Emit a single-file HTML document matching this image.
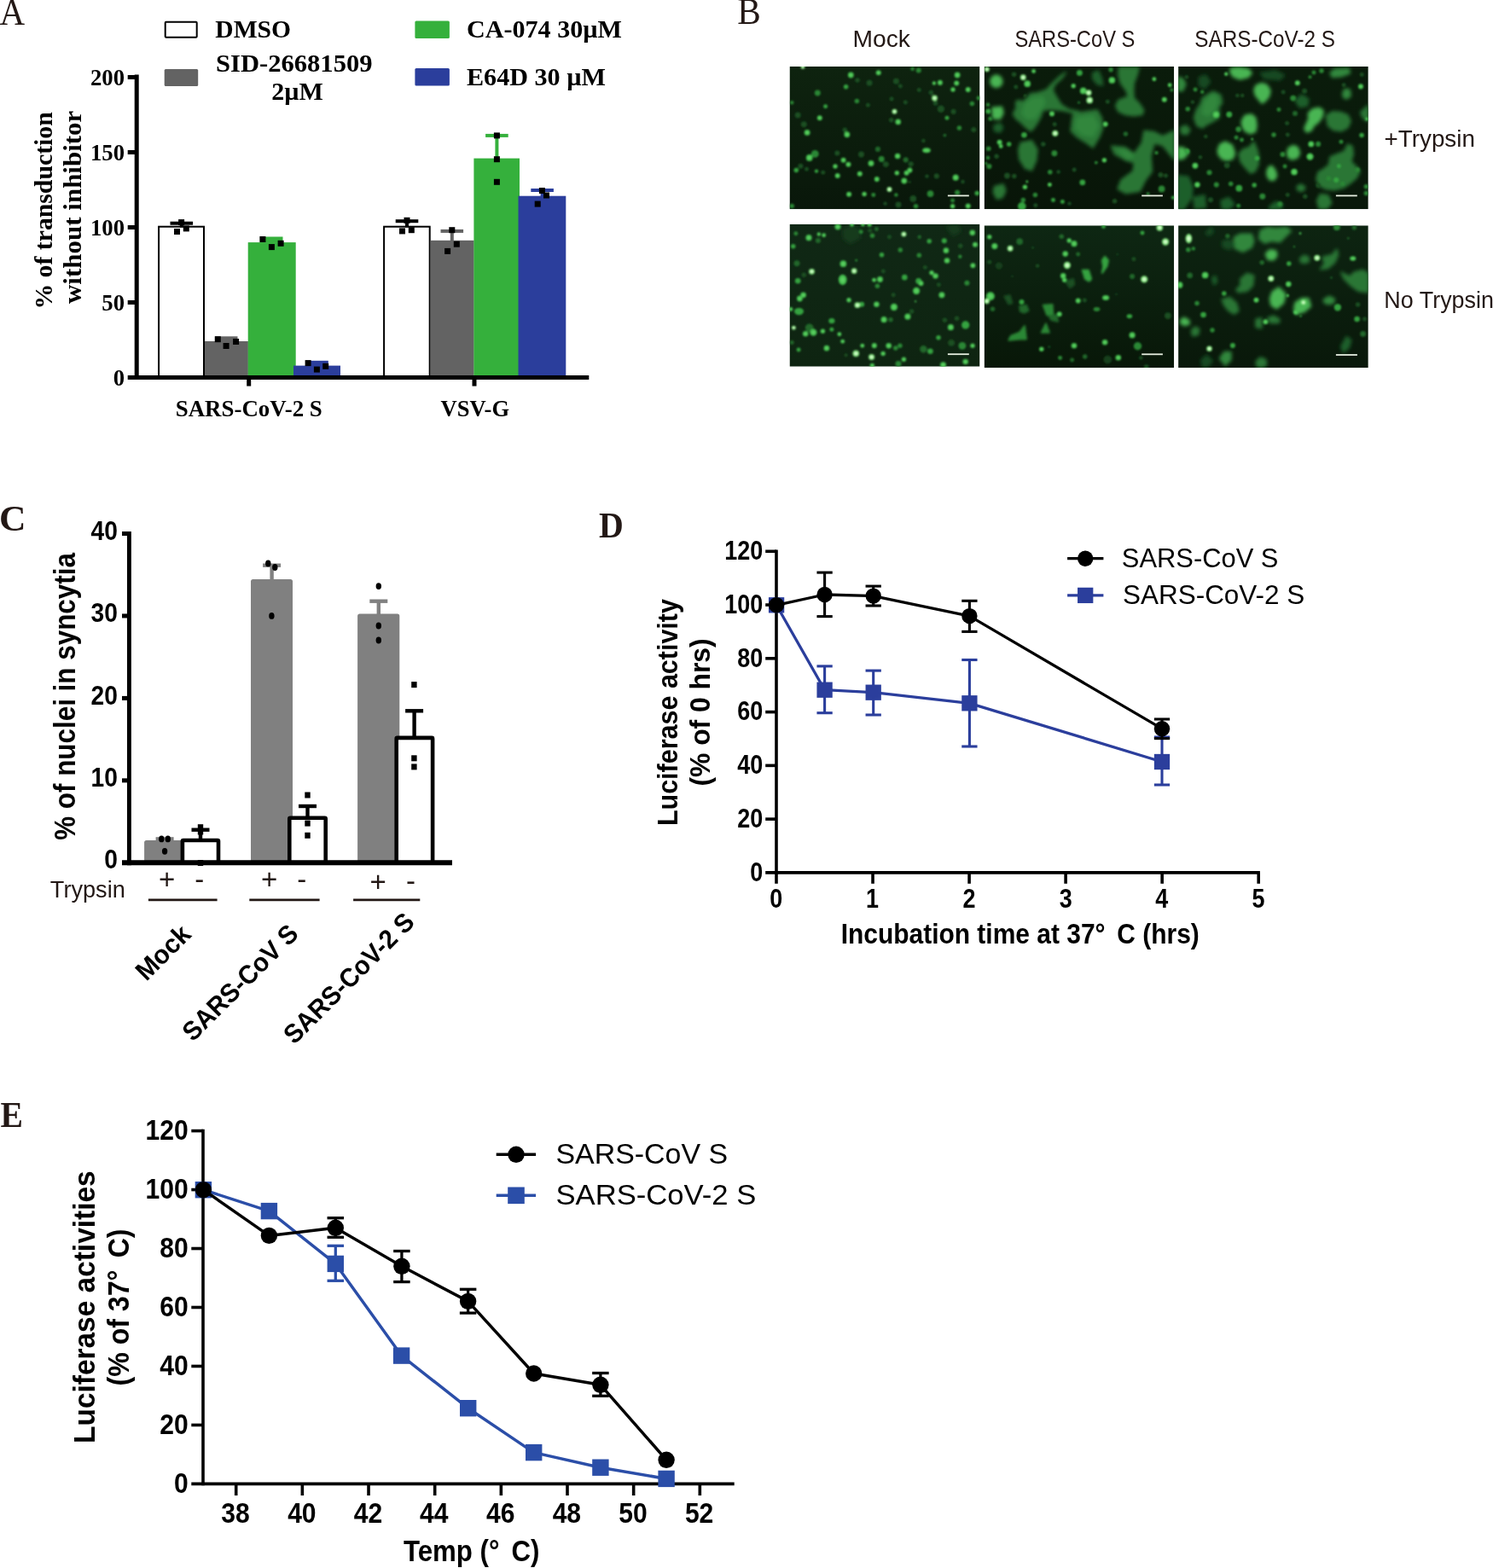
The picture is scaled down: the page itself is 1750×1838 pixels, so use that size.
<!DOCTYPE html>
<html lang="en"><head><meta charset="utf-8"><title>Figure</title>
<style>html,body{margin:0;padding:0;background:#fff}body{width:1750px;height:1838px;overflow:hidden}svg{display:block}text{white-space:pre}</style>
</head><body>
<svg width="1750" height="1838" viewBox="0 0 1750 1838">
<defs><filter id="b1" x="-50%" y="-50%" width="200%" height="200%"><feGaussianBlur stdDeviation="0.9"/></filter><filter id="b15" x="-50%" y="-50%" width="200%" height="200%"><feGaussianBlur stdDeviation="1.4"/></filter><filter id="b2" x="-50%" y="-50%" width="200%" height="200%"><feGaussianBlur stdDeviation="2.2"/></filter><linearGradient id="bgm1" x1="0" y1="0" x2="0" y2="1"><stop offset="0" stop-color="#0e230f"/><stop offset="1" stop-color="#09170a"/></linearGradient><linearGradient id="bgs1" x1="0" y1="0" x2="0" y2="1"><stop offset="0" stop-color="#0a1c0b"/><stop offset="1" stop-color="#081508"/></linearGradient><linearGradient id="bgt1" x1="0" y1="0" x2="0" y2="1"><stop offset="0" stop-color="#0a1c0b"/><stop offset="1" stop-color="#09180a"/></linearGradient><linearGradient id="bgm2" x1="0" y1="0" x2="0" y2="1"><stop offset="0" stop-color="#102815"/><stop offset="1" stop-color="#0e2411"/></linearGradient><linearGradient id="bgs2" x1="0" y1="0" x2="0" y2="1"><stop offset="0" stop-color="#0e2713"/><stop offset="1" stop-color="#081708"/></linearGradient><linearGradient id="bgt2" x1="0" y1="0" x2="0" y2="1"><stop offset="0" stop-color="#0d2411"/><stop offset="1" stop-color="#09180a"/></linearGradient></defs>
<rect width="1750" height="1838" fill="#fff"/>
<g id="panel-labels">
<text x="-0.5" y="28.5" font-family='"Liberation Serif", serif' font-size="43.5" fill="#231815" textLength="29.6" lengthAdjust="spacingAndGlyphs">A</text>
<text x="864.37" y="28.4" font-family='"Liberation Serif", serif' font-size="43.5" fill="#231815" textLength="27.58" lengthAdjust="spacingAndGlyphs">B</text>
<text x="-0.96" y="621.6" font-family='"Liberation Serif", serif' font-size="43" font-weight="bold" fill="#231815" textLength="31.51" lengthAdjust="spacingAndGlyphs">C</text>
<text x="702" y="630" font-family='"Liberation Serif", serif' font-size="43" font-weight="bold" fill="#231815" textLength="28.78" lengthAdjust="spacingAndGlyphs">D</text>
<text x="0.4" y="1321.3" font-family='"Liberation Serif", serif' font-size="43" font-weight="bold" fill="#231815" textLength="26.46" lengthAdjust="spacingAndGlyphs">E</text>
</g>
<g id="panel-a">
<rect x="193.7" y="25.7" width="37" height="18" fill="#fff" stroke="#000" stroke-width="2" rx="1"/>
<rect x="192.7" y="81" width="39.5" height="20" fill="#636363" rx="1.5"/>
<rect x="486.4" y="24.5" width="40.5" height="20.5" fill="#35b03c" rx="1.5"/>
<rect x="486.4" y="80" width="40.5" height="20.5" fill="#2b3e9c" rx="1.5"/>
<text x="252.3" y="44" font-family='"Liberation Serif", serif' font-size="29.6" font-weight="bold">DMSO</text>
<text x="253" y="84.1" font-family='"Liberation Serif", serif' font-size="30" font-weight="bold" textLength="183.5" lengthAdjust="spacingAndGlyphs">SID-26681509</text>
<text x="348.5" y="117.3" font-family='"Liberation Serif", serif' font-size="30" font-weight="bold" text-anchor="middle">2µM</text>
<text x="547" y="44.1" font-family='"Liberation Serif", serif' font-size="30" font-weight="bold" textLength="182" lengthAdjust="spacingAndGlyphs">CA-074 30µM</text>
<text x="547" y="100.1" font-family='"Liberation Serif", serif' font-size="30" font-weight="bold" textLength="163" lengthAdjust="spacingAndGlyphs">E64D 30 µM</text>
<rect x="186.1" y="265.7" width="52.9" height="176.8" fill="#fff" stroke="#000" stroke-width="2"/>
<rect x="240" y="400" width="50.9" height="42.5" fill="#636363"/>
<rect x="290.7" y="284.1" width="56" height="158.4" fill="#35b03c"/>
<rect x="344" y="428.6" width="55" height="13.9" fill="#2b3e9c"/>
<rect x="450.1" y="265.7" width="53.6" height="176.8" fill="#fff" stroke="#000" stroke-width="2"/>
<rect x="504.7" y="281.8" width="50.9" height="160.7" fill="#636363"/>
<rect x="555.4" y="185.6" width="53.6" height="256.9" fill="#35b03c"/>
<rect x="607.5" y="229.7" width="55.8" height="212.8" fill="#2b3e9c"/>
<line x1="212.8" y1="261.7" x2="212.8" y2="266.5" stroke="#000" stroke-width="4"/>
<line x1="199.5" y1="261.7" x2="226.1" y2="261.7" stroke="#000" stroke-width="4"/>
<line x1="265.2" y1="396.3" x2="265.2" y2="401" stroke="#636363" stroke-width="4"/>
<rect x="251.9" y="394.3" width="26.6" height="6.2" fill="#636363"/>
<line x1="318.2" y1="279.5" x2="318.2" y2="285.1" stroke="#35b03c" stroke-width="4"/>
<rect x="304.9" y="277.5" width="26.6" height="7.1" fill="#35b03c"/>
<line x1="371.5" y1="424.8" x2="371.5" y2="429.6" stroke="#2b3e9c" stroke-width="4"/>
<rect x="358.2" y="422.8" width="26.6" height="6.3" fill="#2b3e9c"/>
<line x1="477" y1="259.2" x2="477" y2="266.5" stroke="#000" stroke-width="4"/>
<line x1="463.7" y1="259.2" x2="490.3" y2="259.2" stroke="#000" stroke-width="4"/>
<line x1="529.8" y1="270.9" x2="529.8" y2="284" stroke="#636363" stroke-width="4"/>
<line x1="516.5" y1="270.9" x2="543.1" y2="270.9" stroke="#636363" stroke-width="4"/>
<line x1="582.4" y1="158.9" x2="582.4" y2="188" stroke="#35b03c" stroke-width="4"/>
<line x1="569.1" y1="158.9" x2="595.7" y2="158.9" stroke="#35b03c" stroke-width="4"/>
<line x1="635.6" y1="223" x2="635.6" y2="232" stroke="#2b3e9c" stroke-width="4"/>
<line x1="622.3" y1="223" x2="648.9" y2="223" stroke="#2b3e9c" stroke-width="4"/>
<rect x="209.1" y="257.1" width="7" height="7" fill="#000"/>
<rect x="204" y="268" width="7" height="7" fill="#000"/>
<rect x="214.8" y="264.4" width="7" height="7" fill="#000"/>
<rect x="251.8" y="394.2" width="7" height="7" fill="#000"/>
<rect x="261.6" y="402" width="7" height="7" fill="#000"/>
<rect x="273.1" y="397" width="7" height="7" fill="#000"/>
<rect x="304.4" y="277" width="7" height="7" fill="#000"/>
<rect x="314.9" y="286.1" width="7" height="7" fill="#000"/>
<rect x="325.6" y="281.8" width="7" height="7" fill="#000"/>
<rect x="357.6" y="422.1" width="7" height="7" fill="#000"/>
<rect x="367.9" y="429.6" width="7" height="7" fill="#000"/>
<rect x="378.2" y="425.8" width="7" height="7" fill="#000"/>
<rect x="473.5" y="254.8" width="7" height="7" fill="#000"/>
<rect x="468" y="267.4" width="7" height="7" fill="#000"/>
<rect x="478.8" y="266.2" width="7" height="7" fill="#000"/>
<rect x="526.3" y="266.2" width="7" height="7" fill="#000"/>
<rect x="531.8" y="282.7" width="7" height="7" fill="#000"/>
<rect x="521.1" y="290.9" width="7" height="7" fill="#000"/>
<rect x="578.9" y="155.4" width="7" height="7" fill="#000"/>
<rect x="578.9" y="183.2" width="7" height="7" fill="#000"/>
<rect x="578.9" y="209.8" width="7" height="7" fill="#000"/>
<rect x="631.9" y="220" width="7" height="7" fill="#000"/>
<rect x="637" y="225.5" width="7" height="7" fill="#000"/>
<rect x="626.7" y="235.6" width="7" height="7" fill="#000"/>
<line x1="160.2" y1="87.5" x2="160.2" y2="445" stroke="#000" stroke-width="5"/>
<line x1="149.7" y1="442.5" x2="690.3" y2="442.5" stroke="#000" stroke-width="5"/>
<line x1="149.7" y1="354.5" x2="160.2" y2="354.5" stroke="#000" stroke-width="5"/>
<line x1="149.7" y1="266.5" x2="160.2" y2="266.5" stroke="#000" stroke-width="5"/>
<line x1="149.7" y1="178.5" x2="160.2" y2="178.5" stroke="#000" stroke-width="5"/>
<line x1="149.7" y1="90.5" x2="160.2" y2="90.5" stroke="#000" stroke-width="5"/>
<line x1="291.7" y1="442.5" x2="291.7" y2="452.6" stroke="#000" stroke-width="5"/>
<line x1="556" y1="442.5" x2="556" y2="452.6" stroke="#000" stroke-width="5"/>
<text x="146" y="451.7" font-family='"Liberation Serif", serif' font-size="26.7" font-weight="bold" text-anchor="end">0</text>
<text x="146" y="363.7" font-family='"Liberation Serif", serif' font-size="26.7" font-weight="bold" text-anchor="end">50</text>
<text x="146" y="275.7" font-family='"Liberation Serif", serif' font-size="26.7" font-weight="bold" text-anchor="end">100</text>
<text x="146" y="187.7" font-family='"Liberation Serif", serif' font-size="26.7" font-weight="bold" text-anchor="end">150</text>
<text x="146" y="99.7" font-family='"Liberation Serif", serif' font-size="26.7" font-weight="bold" text-anchor="end">200</text>
<text x="291.8" y="487.6" font-family='"Liberation Serif", serif' font-size="26.9" font-weight="bold" text-anchor="middle">SARS-CoV-2 S</text>
<text x="556.8" y="487.6" font-family='"Liberation Serif", serif' font-size="26.5" font-weight="bold" text-anchor="middle">VSV-G</text>
<text x="61.2" y="362.57" font-family='"Liberation Serif", serif' font-size="28.6" font-weight="bold" textLength="231.31" lengthAdjust="spacingAndGlyphs" transform="rotate(-90 61.2 362.57)">% of transduction</text>
<text x="94.6" y="356" font-family='"Liberation Serif", serif' font-size="28.6" font-weight="bold" textLength="226.38" lengthAdjust="spacingAndGlyphs" transform="rotate(-90 94.6 356)">without inhibitor</text>
</g>
<g id="panel-b">
<text x="999.54" y="54.5" font-family='"Liberation Sans", sans-serif' font-size="27.8" fill="#231815" textLength="67.42" lengthAdjust="spacingAndGlyphs">Mock</text>
<text x="1189.43" y="54.5" font-family='"Liberation Sans", sans-serif' font-size="27.8" fill="#231815" textLength="140.96" lengthAdjust="spacingAndGlyphs">SARS-CoV S</text>
<text x="1400.31" y="54.5" font-family='"Liberation Sans", sans-serif' font-size="27.8" fill="#231815" textLength="164.71" lengthAdjust="spacingAndGlyphs">SARS-CoV-2 S</text>
<text x="1622.55" y="172.2" font-family='"Liberation Sans", sans-serif' font-size="27.8" fill="#231815" textLength="106.35" lengthAdjust="spacingAndGlyphs">+Trypsin</text>
<text x="1622.36" y="360.6" font-family='"Liberation Sans", sans-serif' font-size="27.8" fill="#231815" textLength="128.58" lengthAdjust="spacingAndGlyphs">No Trypsin</text>
<svg x="925.5" y="78" width="223" height="167.2" viewBox="0 0 223 167.2" overflow="hidden">
<rect width="223" height="167.2" fill="url(#bgm1)"/>
<g filter="url(#b1)"><ellipse cx="144.8" cy="154.9" rx="3.87" ry="3.87" fill="#1a4f23"/><ellipse cx="9.7" cy="57.0" rx="3.46" ry="3.46" fill="#1a4f23"/><ellipse cx="124.9" cy="17.3" rx="3.46" ry="3.46" fill="#1a4f23"/><ellipse cx="129.8" cy="23.0" rx="2.49" ry="2.49" fill="#1a4f23"/><ellipse cx="79.5" cy="16.0" rx="2.76" ry="2.76" fill="#1a4f23"/><ellipse cx="93.6" cy="19.2" rx="3.46" ry="3.46" fill="#1a4f23"/><ellipse cx="151.8" cy="27.5" rx="2.49" ry="2.49" fill="#1a4f23"/><ellipse cx="165.9" cy="30.5" rx="2.76" ry="2.76" fill="#1a4f23"/><ellipse cx="119.6" cy="38.0" rx="2.49" ry="2.49" fill="#1a4f23"/><ellipse cx="135.8" cy="41.9" rx="2.49" ry="2.49" fill="#1a4f23"/><ellipse cx="171.0" cy="42.9" rx="2.76" ry="2.76" fill="#1a4f23"/><ellipse cx="177.4" cy="49.7" rx="4.15" ry="4.15" fill="#1a4f23"/><ellipse cx="192.1" cy="52.9" rx="3.04" ry="3.04" fill="#1a4f23"/><ellipse cx="215.8" cy="74.0" rx="3.04" ry="3.04" fill="#1a4f23"/><ellipse cx="16.8" cy="67.8" rx="3.46" ry="3.46" fill="#1a4f23"/><ellipse cx="64.8" cy="74.2" rx="2.76" ry="2.76" fill="#1a4f23"/><ellipse cx="55.8" cy="101.5" rx="3.04" ry="3.04" fill="#1a4f23"/><ellipse cx="84.0" cy="103.0" rx="3.46" ry="3.46" fill="#1a4f23"/><ellipse cx="142.2" cy="114.3" rx="3.04" ry="3.04" fill="#1a4f23"/><ellipse cx="112.8" cy="114.6" rx="3.46" ry="3.46" fill="#1a4f23"/><ellipse cx="12.9" cy="116.7" rx="3.04" ry="3.04" fill="#1a4f23"/><ellipse cx="161.0" cy="128.6" rx="2.21" ry="2.21" fill="#1a4f23"/><ellipse cx="172.3" cy="128.4" rx="3.04" ry="3.04" fill="#1a4f23"/><ellipse cx="203.0" cy="135.0" rx="2.21" ry="2.21" fill="#1a4f23"/><ellipse cx="140.7" cy="135.3" rx="1.38" ry="1.38" fill="#1a4f23"/><ellipse cx="91.9" cy="45.2" rx="2.49" ry="2.49" fill="#1a4f23"/><ellipse cx="119.2" cy="62.7" rx="2.76" ry="2.76" fill="#1a4f23"/><ellipse cx="156.9" cy="87.0" rx="2.21" ry="2.21" fill="#1a4f23"/><ellipse cx="112.1" cy="160.6" rx="2.21" ry="2.21" fill="#1a4f23"/><ellipse cx="127.5" cy="161.9" rx="3.46" ry="3.46" fill="#1a4f23"/><ellipse cx="39.2" cy="124.2" rx="2.49" ry="2.49" fill="#1a4f23"/><ellipse cx="20.0" cy="120.3" rx="2.49" ry="2.49" fill="#1a4f23"/><ellipse cx="136.2" cy="109.4" rx="3.04" ry="3.04" fill="#20672a"/><ellipse cx="181.9" cy="80.6" rx="1.94" ry="1.94" fill="#20672a"/><ellipse cx="103.4" cy="96.9" rx="3.04" ry="3.04" fill="#20672a"/><ellipse cx="32.8" cy="31.0" rx="3.46" ry="3.46" fill="#2a8735"/><ellipse cx="78.9" cy="40.6" rx="2.76" ry="2.76" fill="#2a8735"/><ellipse cx="198.9" cy="72.1" rx="2.76" ry="2.76" fill="#2a8735"/><ellipse cx="29.8" cy="102.4" rx="4.42" ry="4.42" fill="#2a8735"/><ellipse cx="107.7" cy="108.5" rx="3.46" ry="3.46" fill="#2a8735"/><ellipse cx="98.3" cy="150.4" rx="2.49" ry="2.49" fill="#2a8735"/><ellipse cx="124.9" cy="150.4" rx="2.21" ry="2.21" fill="#2a8735"/><ellipse cx="165.0" cy="149.1" rx="3.87" ry="3.87" fill="#2a8735"/><ellipse cx="196.6" cy="147.8" rx="3.04" ry="3.04" fill="#2a8735"/><ellipse cx="191.1" cy="157.1" rx="2.49" ry="2.49" fill="#2a8735"/><ellipse cx="148.0" cy="163.8" rx="2.76" ry="2.76" fill="#2a8735"/><ellipse cx="2.7" cy="163.6" rx="2.76" ry="2.76" fill="#2a8735"/><ellipse cx="144.1" cy="2.8" rx="2.21" ry="2.21" fill="#2a8735"/><ellipse cx="151.2" cy="4.5" rx="3.04" ry="3.04" fill="#2a8735"/><ellipse cx="2.7" cy="42.2" rx="2.21" ry="2.21" fill="#2a8735"/><ellipse cx="213.9" cy="43.5" rx="2.76" ry="2.76" fill="#2a8735"/><ellipse cx="221.6" cy="37.1" rx="2.49" ry="2.49" fill="#2a8735"/><ellipse cx="66.1" cy="23.7" rx="2.76" ry="2.76" fill="#35a340"/><ellipse cx="42.1" cy="46.7" rx="2.49" ry="2.49" fill="#35a340"/><ellipse cx="184.5" cy="60.2" rx="2.49" ry="2.49" fill="#35a340"/><ellipse cx="7.8" cy="121.6" rx="2.76" ry="2.76" fill="#35a340"/><ellipse cx="31.5" cy="122.6" rx="2.21" ry="2.21" fill="#35a340"/><ellipse cx="219.7" cy="148.5" rx="2.76" ry="2.76" fill="#35a340"/><ellipse cx="71.8" cy="10.0" rx="3.46" ry="3.46" fill="#44bd4e"/><ellipse cx="104.2" cy="7.3" rx="3.04" ry="3.04" fill="#44bd4e"/><ellipse cx="196.6" cy="10.0" rx="3.46" ry="3.46" fill="#44bd4e"/><ellipse cx="195.7" cy="19.5" rx="3.04" ry="3.04" fill="#44bd4e"/><ellipse cx="176.4" cy="18.9" rx="3.04" ry="3.04" fill="#44bd4e"/><ellipse cx="169.4" cy="19.5" rx="2.21" ry="2.21" fill="#44bd4e"/><ellipse cx="191.5" cy="27.1" rx="2.76" ry="2.76" fill="#44bd4e"/><ellipse cx="209.2" cy="27.1" rx="3.04" ry="3.04" fill="#44bd4e"/><ellipse cx="35.3" cy="60.2" rx="3.04" ry="3.04" fill="#44bd4e"/><ellipse cx="127.2" cy="64.9" rx="3.32" ry="3.32" fill="#44bd4e"/><ellipse cx="20.6" cy="77.4" rx="3.46" ry="3.46" fill="#44bd4e"/><ellipse cx="67.3" cy="79.7" rx="3.46" ry="3.46" fill="#44bd4e"/><ellipse cx="160.5" cy="98.2" rx="4.84" ry="3.04" fill="#44bd4e"/><ellipse cx="23.2" cy="106.9" rx="3.87" ry="3.87" fill="#44bd4e"/><ellipse cx="63.1" cy="109.7" rx="3.04" ry="3.04" fill="#44bd4e"/><ellipse cx="68.9" cy="114.8" rx="3.04" ry="3.04" fill="#44bd4e"/><ellipse cx="53.5" cy="117.1" rx="2.76" ry="2.76" fill="#44bd4e"/><ellipse cx="95.5" cy="113.5" rx="3.46" ry="3.46" fill="#44bd4e"/><ellipse cx="126.6" cy="105.0" rx="3.32" ry="3.32" fill="#44bd4e"/><ellipse cx="56.2" cy="128.0" rx="3.04" ry="3.04" fill="#44bd4e"/><ellipse cx="82.3" cy="125.7" rx="3.04" ry="3.04" fill="#44bd4e"/><ellipse cx="125.8" cy="124.8" rx="2.76" ry="2.76" fill="#44bd4e"/><ellipse cx="137.1" cy="124.8" rx="3.04" ry="3.04" fill="#44bd4e"/><ellipse cx="140.9" cy="121.6" rx="3.04" ry="3.04" fill="#44bd4e"/><ellipse cx="102.3" cy="132.1" rx="3.04" ry="3.04" fill="#44bd4e"/><ellipse cx="134.3" cy="134.0" rx="3.46" ry="3.46" fill="#44bd4e"/><ellipse cx="194.7" cy="130.2" rx="3.59" ry="3.59" fill="#44bd4e"/><ellipse cx="69.6" cy="149.8" rx="3.04" ry="3.04" fill="#44bd4e"/><ellipse cx="87.6" cy="149.5" rx="2.76" ry="2.76" fill="#44bd4e"/><ellipse cx="191.1" cy="163.8" rx="2.76" ry="2.76" fill="#44bd4e"/><ellipse cx="209.2" cy="163.6" rx="3.04" ry="3.04" fill="#44bd4e"/><ellipse cx="170.0" cy="36.9" rx="3.46" ry="3.46" fill="#7fe07a"/><ellipse cx="123.0" cy="52.7" rx="3.04" ry="3.04" fill="#7fe07a"/><ellipse cx="117.0" cy="144.0" rx="3.04" ry="3.04" fill="#7fe07a"/><ellipse cx="15.5" cy="0.6" rx="2.49" ry="2.49" fill="#7fe07a"/><ellipse cx="71.8" cy="10.0" rx="1.60" ry="1.60" fill="#5fd265"/><ellipse cx="104.2" cy="7.3" rx="1.41" ry="1.41" fill="#5fd265"/><ellipse cx="196.6" cy="10.0" rx="1.60" ry="1.60" fill="#5fd265"/><ellipse cx="195.7" cy="19.5" rx="1.41" ry="1.41" fill="#5fd265"/><ellipse cx="176.4" cy="18.9" rx="1.41" ry="1.41" fill="#5fd265"/><ellipse cx="169.4" cy="19.5" rx="1.02" ry="1.02" fill="#5fd265"/><ellipse cx="191.5" cy="27.1" rx="1.28" ry="1.28" fill="#5fd265"/><ellipse cx="209.2" cy="27.1" rx="1.41" ry="1.41" fill="#5fd265"/><ellipse cx="35.3" cy="60.2" rx="1.41" ry="1.41" fill="#5fd265"/><ellipse cx="127.2" cy="64.9" rx="1.54" ry="1.54" fill="#5fd265"/><ellipse cx="20.6" cy="77.4" rx="1.60" ry="1.60" fill="#5fd265"/><ellipse cx="67.3" cy="79.7" rx="1.60" ry="1.60" fill="#5fd265"/><ellipse cx="160.5" cy="98.2" rx="2.24" ry="1.41" fill="#5fd265"/><ellipse cx="23.2" cy="106.9" rx="1.79" ry="1.79" fill="#5fd265"/><ellipse cx="63.1" cy="109.7" rx="1.41" ry="1.41" fill="#5fd265"/><ellipse cx="68.9" cy="114.8" rx="1.41" ry="1.41" fill="#5fd265"/><ellipse cx="53.5" cy="117.1" rx="1.28" ry="1.28" fill="#5fd265"/><ellipse cx="95.5" cy="113.5" rx="1.60" ry="1.60" fill="#5fd265"/><ellipse cx="126.6" cy="105.0" rx="1.54" ry="1.54" fill="#5fd265"/><ellipse cx="56.2" cy="128.0" rx="1.41" ry="1.41" fill="#5fd265"/><ellipse cx="82.3" cy="125.7" rx="1.41" ry="1.41" fill="#5fd265"/><ellipse cx="125.8" cy="124.8" rx="1.28" ry="1.28" fill="#5fd265"/><ellipse cx="137.1" cy="124.8" rx="1.41" ry="1.41" fill="#5fd265"/><ellipse cx="140.9" cy="121.6" rx="1.41" ry="1.41" fill="#5fd265"/><ellipse cx="102.3" cy="132.1" rx="1.41" ry="1.41" fill="#5fd265"/><ellipse cx="134.3" cy="134.0" rx="1.60" ry="1.60" fill="#5fd265"/><ellipse cx="194.7" cy="130.2" rx="1.66" ry="1.66" fill="#5fd265"/><ellipse cx="69.6" cy="149.8" rx="1.41" ry="1.41" fill="#5fd265"/><ellipse cx="87.6" cy="149.5" rx="1.28" ry="1.28" fill="#5fd265"/><ellipse cx="191.1" cy="163.8" rx="1.28" ry="1.28" fill="#5fd265"/><ellipse cx="209.2" cy="163.6" rx="1.41" ry="1.41" fill="#5fd265"/><ellipse cx="170.0" cy="36.9" rx="1.76" ry="1.76" fill="#d8ffd0"/><ellipse cx="123.0" cy="52.7" rx="1.55" ry="1.55" fill="#d8ffd0"/><ellipse cx="117.0" cy="144.0" rx="1.55" ry="1.55" fill="#d8ffd0"/><ellipse cx="15.5" cy="0.6" rx="1.27" ry="1.27" fill="#d8ffd0"/></g>
<rect x="185.4" y="150.5" width="24.9" height="1.8" fill="#e6eee0"/>
</svg>
<svg x="1153.6" y="78" width="222.6" height="167.2" viewBox="0 0 222.6 167.2" overflow="hidden">
<rect width="222.6" height="167.2" fill="url(#bgs1)"/>
<g filter="url(#b2)"><polygon points="34.0,55.7 37.8,48.6 37.2,41.6 40.4,39.7 45.5,41.6 54.4,32.0 63.4,30.7 73.0,27.5 78.1,21.8 89.0,11.5 95.4,7.0 91.6,12.8 82.6,21.1 80.0,27.5 84.5,35.8 90.3,44.8 99.2,50.6 111.4,53.1 111.4,55.7 92.2,51.2 76.2,49.9 68.5,51.2 66.6,57.6 63.4,64.0 58.3,71.7 54.4,75.5 48.0,70.4 42.9,65.3 37.8,61.4" fill="#297636" stroke="#297636" stroke-width="2" stroke-linejoin="round"/><polygon points="48.0,43.5 57.0,37.1 68.5,35.8 71.1,42.2 66.0,51.2 59.6,60.2 50.6,61.4 44.2,55.0" fill="#30873c" stroke="#30873c" stroke-width="2" stroke-linejoin="round"/><polygon points="104.4,56.3 114.6,53.8 132.5,51.2 137.6,60.2 138.9,71.7 135.1,81.9 127.4,94.7 118.4,88.3 108.2,81.9 101.8,75.5 103.1,64.0" fill="#297636" stroke="#297636" stroke-width="2" stroke-linejoin="round"/><polygon points="109.5,60.2 127.4,57.6 133.8,69.1 127.4,81.9 114.6,79.4 106.9,71.7" fill="#30873c" stroke="#30873c" stroke-width="2" stroke-linejoin="round"/><polygon points="42.9,89.6 55.7,87.0 62.1,97.3 60.8,110.1 55.7,121.6 48.0,119.0 41.6,108.8 40.4,97.3" fill="#297636" stroke="#297636" stroke-width="2" stroke-linejoin="round"/><polygon points="154.3,46.1 157.5,39.7 165.8,36.5 175.4,37.1 181.8,43.5 186.9,51.2 185.0,56.3 175.4,57.6 165.8,56.3 157.5,52.5" fill="#297636" stroke="#297636" stroke-width="2" stroke-linejoin="round"/><polygon points="158.1,1.3 181.2,1.3 179.2,9.6 175.4,19.2 174.8,28.8 175.4,37.1 169.0,37.1 167.1,28.8 160.0,19.2 157.5,9.6" fill="#297636" stroke="#297636" stroke-width="2" stroke-linejoin="round"/><polygon points="149.2,93.4 164.5,94.7 176.0,102.4 185.0,89.6 187.6,75.5 199.1,76.8 209.3,81.9 222.8,75.5 222.8,108.8 209.3,92.2 199.1,89.6 195.2,105.0 196.5,122.9 188.8,133.1 182.4,145.9 165.8,148.5 156.8,143.4 160.7,133.1 174.8,122.9 176.0,112.6 167.1,110.1 153.0,102.4" fill="#297636" stroke="#297636" stroke-width="2" stroke-linejoin="round"/><polygon points="156.8,97.3 168.4,98.6 174.8,105.0 167.1,108.8" fill="#30873c" stroke="#30873c" stroke-width="2" stroke-linejoin="round"/><polygon points="12.2,140.8 22.4,138.2 25.0,145.9 21.2,153.6 14.8,154.9 10.9,147.2" fill="#297636" stroke="#297636" stroke-width="2" stroke-linejoin="round"/><polygon points="7.3,17.3 9.4,12.4 14.1,10.2 18.9,12.2 21.2,17.3 19.2,22.4 14.1,24.3 9.4,22.4" fill="#48b552" stroke="#48b552" stroke-width="2" stroke-linejoin="round"/><polygon points="9.4,48.6 20.5,47.6 22.2,54.4 18.6,61.2 10.3,60.8" fill="#48b552" stroke="#48b552" stroke-width="2" stroke-linejoin="round"/><polygon points="127.4,7.7 133.8,5.1 137.6,14.1 138.9,21.8 132.5,20.5 127.4,14.1" fill="#1f5f2b" stroke="#1f5f2b" stroke-width="2" stroke-linejoin="round"/><polygon points="11.6,69.1 18.6,66.6 21.8,71.7 18.6,76.8 12.2,75.5" fill="#1f5f2b" stroke="#1f5f2b" stroke-width="2" stroke-linejoin="round"/></g>
<g filter="url(#b1)"><ellipse cx="14.5" cy="105.2" rx="2.76" ry="2.76" fill="#1a4f23"/><ellipse cx="69.2" cy="91.1" rx="2.76" ry="2.76" fill="#1a4f23"/><ellipse cx="60.2" cy="162.8" rx="2.49" ry="2.49" fill="#1a4f23"/><ellipse cx="99.9" cy="160.6" rx="2.21" ry="2.21" fill="#1a4f23"/><ellipse cx="206.8" cy="127.0" rx="3.04" ry="3.04" fill="#1a4f23"/><ellipse cx="212.9" cy="128.0" rx="2.49" ry="2.49" fill="#1a4f23"/><ellipse cx="153.0" cy="157.7" rx="2.76" ry="2.76" fill="#1a4f23"/><ellipse cx="35.0" cy="9.2" rx="2.76" ry="2.76" fill="#1a4f23"/><ellipse cx="37.2" cy="24.1" rx="2.49" ry="2.49" fill="#1a4f23"/><ellipse cx="82.6" cy="67.8" rx="2.49" ry="2.49" fill="#1a4f23"/><ellipse cx="105.6" cy="121.0" rx="2.49" ry="2.49" fill="#1a4f23"/><ellipse cx="87.1" cy="123.5" rx="2.21" ry="2.21" fill="#1a4f23"/><ellipse cx="35.2" cy="128.6" rx="2.76" ry="2.76" fill="#1a4f23"/><ellipse cx="26.9" cy="128.0" rx="3.46" ry="3.46" fill="#1a4f23"/><ellipse cx="144.7" cy="41.2" rx="2.49" ry="2.49" fill="#1a4f23"/><ellipse cx="48.0" cy="34.3" rx="1.94" ry="1.94" fill="#1a4f23"/><ellipse cx="165.8" cy="79.0" rx="2.76" ry="2.76" fill="#20672a"/><ellipse cx="111.0" cy="42.2" rx="1.66" ry="1.66" fill="#20672a"/><ellipse cx="148.5" cy="3.8" rx="2.76" ry="2.76" fill="#2a8735"/><ellipse cx="7.1" cy="61.2" rx="2.49" ry="2.49" fill="#2a8735"/><ellipse cx="4.5" cy="44.8" rx="2.21" ry="2.21" fill="#2a8735"/><ellipse cx="5.2" cy="96.3" rx="2.76" ry="2.76" fill="#2a8735"/><ellipse cx="4.5" cy="106.9" rx="2.21" ry="2.21" fill="#2a8735"/><ellipse cx="5.8" cy="117.1" rx="3.04" ry="3.04" fill="#2a8735"/><ellipse cx="2.0" cy="113.3" rx="1.66" ry="1.66" fill="#2a8735"/><ellipse cx="82.3" cy="101.8" rx="3.46" ry="3.46" fill="#2a8735"/><ellipse cx="131.2" cy="112.6" rx="1.94" ry="1.94" fill="#2a8735"/><ellipse cx="201.9" cy="101.1" rx="2.21" ry="2.21" fill="#2a8735"/><ellipse cx="77.2" cy="123.8" rx="2.76" ry="2.76" fill="#2a8735"/><ellipse cx="59.8" cy="150.4" rx="2.76" ry="2.76" fill="#2a8735"/><ellipse cx="45.7" cy="156.4" rx="2.76" ry="2.76" fill="#2a8735"/><ellipse cx="208.0" cy="143.4" rx="3.87" ry="3.87" fill="#2a8735"/><ellipse cx="192.0" cy="149.1" rx="1.94" ry="1.94" fill="#2a8735"/><ellipse cx="219.8" cy="27.5" rx="1.94" ry="1.94" fill="#2a8735"/><ellipse cx="111.8" cy="7.4" rx="3.46" ry="3.46" fill="#35a340"/><ellipse cx="46.8" cy="80.3" rx="3.32" ry="3.32" fill="#35a340"/><ellipse cx="29.1" cy="91.1" rx="2.76" ry="2.76" fill="#35a340"/><ellipse cx="4.8" cy="52.5" rx="3.04" ry="3.04" fill="#35a340"/><ellipse cx="115.2" cy="135.9" rx="3.32" ry="3.32" fill="#35a340"/><ellipse cx="80.9" cy="156.4" rx="2.49" ry="2.49" fill="#35a340"/><ellipse cx="91.8" cy="158.5" rx="2.49" ry="2.49" fill="#35a340"/><ellipse cx="44.2" cy="163.8" rx="4.84" ry="4.84" fill="#35a340"/><ellipse cx="221.5" cy="153.6" rx="2.21" ry="2.21" fill="#35a340"/><ellipse cx="58.0" cy="5.5" rx="2.49" ry="2.49" fill="#44bd4e"/><ellipse cx="50.6" cy="20.2" rx="3.87" ry="3.87" fill="#44bd4e"/><ellipse cx="104.6" cy="22.8" rx="2.76" ry="2.76" fill="#44bd4e"/><ellipse cx="116.1" cy="28.4" rx="3.87" ry="3.87" fill="#44bd4e"/><ellipse cx="149.8" cy="16.0" rx="3.87" ry="3.87" fill="#44bd4e"/><ellipse cx="199.3" cy="14.7" rx="2.49" ry="2.49" fill="#44bd4e"/><ellipse cx="217.6" cy="21.8" rx="2.49" ry="2.49" fill="#44bd4e"/><ellipse cx="211.2" cy="38.7" rx="3.04" ry="3.04" fill="#44bd4e"/><ellipse cx="79.4" cy="55.4" rx="3.04" ry="3.04" fill="#44bd4e"/><ellipse cx="142.1" cy="67.6" rx="3.04" ry="3.04" fill="#44bd4e"/><ellipse cx="18.0" cy="88.7" rx="3.04" ry="3.04" fill="#44bd4e"/><ellipse cx="19.6" cy="93.4" rx="2.49" ry="2.49" fill="#44bd4e"/><ellipse cx="140.8" cy="109.7" rx="2.76" ry="2.76" fill="#44bd4e"/><ellipse cx="76.8" cy="138.6" rx="2.49" ry="2.49" fill="#44bd4e"/><ellipse cx="47.8" cy="141.2" rx="2.76" ry="2.76" fill="#44bd4e"/><ellipse cx="50.2" cy="135.0" rx="1.38" ry="1.38" fill="#44bd4e"/><ellipse cx="3.2" cy="3.2" rx="3.04" ry="3.04" fill="#7fe07a"/><ellipse cx="45.7" cy="12.8" rx="3.46" ry="3.46" fill="#7fe07a"/><ellipse cx="122.5" cy="30.7" rx="3.46" ry="3.46" fill="#7fe07a"/><ellipse cx="123.6" cy="39.4" rx="3.87" ry="3.87" fill="#7fe07a"/><ellipse cx="83.2" cy="78.3" rx="3.59" ry="3.59" fill="#7fe07a"/><ellipse cx="58.0" cy="5.5" rx="1.15" ry="1.15" fill="#5fd265"/><ellipse cx="50.6" cy="20.2" rx="1.79" ry="1.79" fill="#5fd265"/><ellipse cx="104.6" cy="22.8" rx="1.28" ry="1.28" fill="#5fd265"/><ellipse cx="116.1" cy="28.4" rx="1.79" ry="1.79" fill="#5fd265"/><ellipse cx="149.8" cy="16.0" rx="1.79" ry="1.79" fill="#5fd265"/><ellipse cx="199.3" cy="14.7" rx="1.15" ry="1.15" fill="#5fd265"/><ellipse cx="217.6" cy="21.8" rx="1.15" ry="1.15" fill="#5fd265"/><ellipse cx="211.2" cy="38.7" rx="1.41" ry="1.41" fill="#5fd265"/><ellipse cx="79.4" cy="55.4" rx="1.41" ry="1.41" fill="#5fd265"/><ellipse cx="142.1" cy="67.6" rx="1.41" ry="1.41" fill="#5fd265"/><ellipse cx="18.0" cy="88.7" rx="1.41" ry="1.41" fill="#5fd265"/><ellipse cx="19.6" cy="93.4" rx="1.15" ry="1.15" fill="#5fd265"/><ellipse cx="140.8" cy="109.7" rx="1.28" ry="1.28" fill="#5fd265"/><ellipse cx="76.8" cy="138.6" rx="1.15" ry="1.15" fill="#5fd265"/><ellipse cx="47.8" cy="141.2" rx="1.28" ry="1.28" fill="#5fd265"/><ellipse cx="50.2" cy="135.0" rx="0.64" ry="0.64" fill="#5fd265"/><ellipse cx="3.2" cy="3.2" rx="1.55" ry="1.55" fill="#d8ffd0"/><ellipse cx="45.7" cy="12.8" rx="1.76" ry="1.76" fill="#d8ffd0"/><ellipse cx="122.5" cy="30.7" rx="1.76" ry="1.76" fill="#d8ffd0"/><ellipse cx="123.6" cy="39.4" rx="1.97" ry="1.97" fill="#d8ffd0"/><ellipse cx="83.2" cy="78.3" rx="1.83" ry="1.83" fill="#d8ffd0"/></g>
<rect x="184.6" y="150.5" width="24.7" height="1.8" fill="#e6eee0"/>
</svg>
<svg x="1381.1" y="78" width="222.7" height="167.2" viewBox="0 0 222.7 167.2" overflow="hidden">
<rect width="222.7" height="167.2" fill="url(#bgt1)"/>
<g filter="url(#b2)"><polygon points="18.7,60.2 21.3,51.2 26.4,43.5 28.3,37.1 36.0,32.0 41.1,29.4 49.5,33.3 51.4,42.2 46.9,48.6 48.2,53.8 47.5,60.2 41.1,64.0 33.5,67.8 28.3,71.7 21.9,69.1" fill="#297636" stroke="#297636" stroke-width="2" stroke-linejoin="round"/><polygon points="30.9,42.2 37.3,34.6 43.7,33.3 46.3,41.0 42.4,51.2 34.7,57.6 28.3,55.0" fill="#30873c" stroke="#30873c" stroke-width="2" stroke-linejoin="round"/><polygon points="61.6,2.6 70.6,1.5 82.1,3.2 85.9,7.7 82.1,12.2 71.9,14.7 64.2,11.5 61.0,6.4" fill="#48b552" stroke="#48b552" stroke-width="2" stroke-linejoin="round"/><polygon points="89.1,27.5 91.1,22.4 97.5,19.8 103.9,21.8 107.7,28.2 106.4,34.6 102.6,39.7 98.1,42.9 94.3,38.4 90.4,33.3" fill="#48b552" stroke="#48b552" stroke-width="2" stroke-linejoin="round"/><polygon points="74.4,64.0 78.3,57.6 85.9,56.3 90.4,60.2 91.7,69.1 90.4,76.2 84.7,78.7 78.3,75.5 75.1,70.4" fill="#48b552" stroke="#48b552" stroke-width="2" stroke-linejoin="round"/><polygon points="46.3,98.6 48.8,91.5 55.2,88.3 62.9,92.2 66.1,101.1 64.2,107.5 57.8,110.1 51.4,108.2 47.5,103.7" fill="#48b552" stroke="#48b552" stroke-width="2" stroke-linejoin="round"/><polygon points="71.2,102.4 75.7,97.3 83.4,94.7 88.5,88.3 92.3,97.3 94.3,106.2 93.6,115.2 89.8,122.9 84.7,124.8 78.3,117.8 73.1,111.4" fill="#297636" stroke="#297636" stroke-width="2" stroke-linejoin="round"/><polygon points="152.5,55.0 157.6,49.9 165.3,48.6 169.8,51.8 168.5,58.9 164.0,65.3 158.9,69.1 155.7,74.9 150.6,76.8 148.0,73.0 150.6,66.6 153.1,61.4" fill="#48b552" stroke="#48b552" stroke-width="2" stroke-linejoin="round"/><polygon points="173.6,57.6 180.7,53.1 190.9,53.8 198.6,57.0 201.8,64.0 198.6,71.7 190.9,75.5 181.9,74.2 175.5,69.1" fill="#297636" stroke="#297636" stroke-width="2" stroke-linejoin="round"/><polygon points="178.1,106.2 187.1,102.4 194.7,99.8 198.6,91.5 203.7,93.4 205.0,102.4 202.4,111.4 208.8,117.8 212.7,122.9 208.8,130.6 201.1,137.0 193.5,142.1 183.2,144.6 173.0,143.4 165.3,139.5 162.1,131.8 164.0,124.2 170.4,120.3 176.8,115.2" fill="#297636" stroke="#297636" stroke-width="2" stroke-linejoin="round"/><polygon points="-0.1,128.0 11.7,129.3 16.8,140.8 15.5,153.6 6.6,167.0 -0.1,167.0" fill="#1f5f2b" stroke="#1f5f2b" stroke-width="2" stroke-linejoin="round"/><polygon points="162.7,157.4 166.6,149.8 175.5,151.0 179.4,160.0 174.3,166.4 165.3,166.4" fill="#297636" stroke="#297636" stroke-width="2" stroke-linejoin="round"/><polygon points="127.5,101.1 129.5,95.4 134.6,92.8 139.7,94.7 142.3,101.1 139.7,106.9 133.3,108.8 128.8,106.2" fill="#48b552" stroke="#48b552" stroke-width="2" stroke-linejoin="round"/><polygon points="103.9,123.5 105.8,118.4 109.6,116.5 113.5,121.6 115.4,128.0 112.2,133.1 107.7,133.1 104.5,128.6" fill="#48b552" stroke="#48b552" stroke-width="2" stroke-linejoin="round"/><polygon points="-0.1,12.8 5.3,14.1 8.5,20.5 5.3,28.2 -0.1,28.2" fill="#30873c" stroke="#30873c" stroke-width="2" stroke-linejoin="round"/><polygon points="-0.1,94.7 6.6,95.4 11.7,101.1 6.6,107.5 -0.1,108.8" fill="#48b552" stroke="#48b552" stroke-width="2" stroke-linejoin="round"/><polygon points="178.1,7.7 183.2,3.2 199.9,2.6 201.1,7.7 190.9,11.5 180.7,12.2" fill="#30873c" stroke="#30873c" stroke-width="2" stroke-linejoin="round"/><polygon points="192.8,31.4 195.4,26.2 201.1,27.5 201.8,34.6 197.3,37.8 193.5,35.8" fill="#30873c" stroke="#30873c" stroke-width="2" stroke-linejoin="round"/><polygon points="137.1,39.7 144.8,33.3 152.5,38.4 151.2,46.1 142.3,47.4" fill="#1f5f2b" stroke="#1f5f2b" stroke-width="2" stroke-linejoin="round"/><polygon points="2.7,71.7 9.1,69.1 13.6,74.2 10.4,79.4 4.0,78.7" fill="#297636" stroke="#297636" stroke-width="2" stroke-linejoin="round"/><polygon points="213.9,53.8 222.3,46.1 222.3,64.0 216.5,60.2" fill="#297636" stroke="#297636" stroke-width="2" stroke-linejoin="round"/><polygon points="139.1,140.8 143.5,138.2 148.7,141.4 146.1,145.9 140.3,145.3" fill="#297636" stroke="#297636" stroke-width="2" stroke-linejoin="round"/><polygon points="18.1,153.6 30.9,151.0 32.2,165.1 19.4,166.4" fill="#1f5f2b" stroke="#1f5f2b" stroke-width="2" stroke-linejoin="round"/><polygon points="50.1,157.4 59.1,153.6 65.5,161.3 59.1,167.0 51.4,166.4" fill="#1f5f2b" stroke="#1f5f2b" stroke-width="2" stroke-linejoin="round"/><polygon points="106.4,165.1 114.1,158.7 121.8,161.3 120.5,167.0 107.7,167.0" fill="#1f5f2b" stroke="#1f5f2b" stroke-width="2" stroke-linejoin="round"/><polygon points="24.5,12.8 32.2,10.2 37.3,17.9 30.9,25.6 24.5,21.8" fill="#184a22" stroke="#184a22" stroke-width="2" stroke-linejoin="round"/><polygon points="96.2,7.7 114.1,5.1 124.3,10.2 119.2,15.4 101.3,14.1" fill="#184a22" stroke="#184a22" stroke-width="2" stroke-linejoin="round"/></g>
<g filter="url(#b1)"><ellipse cx="128.2" cy="80.0" rx="2.49" ry="2.49" fill="#1a4f23"/><ellipse cx="128.2" cy="150.4" rx="2.49" ry="2.49" fill="#1a4f23"/><ellipse cx="37.9" cy="156.2" rx="3.04" ry="3.04" fill="#1a4f23"/><ellipse cx="148.0" cy="28.8" rx="3.04" ry="3.04" fill="#1a4f23"/><ellipse cx="123.1" cy="30.1" rx="2.49" ry="2.49" fill="#1a4f23"/><ellipse cx="215.2" cy="9.6" rx="2.49" ry="2.49" fill="#1a4f23"/><ellipse cx="194.1" cy="21.8" rx="2.49" ry="2.49" fill="#1a4f23"/><ellipse cx="69.3" cy="33.9" rx="2.21" ry="2.21" fill="#1a4f23"/><ellipse cx="75.1" cy="33.9" rx="2.21" ry="2.21" fill="#1a4f23"/><ellipse cx="9.8" cy="12.2" rx="2.21" ry="2.21" fill="#1a4f23"/><ellipse cx="16.8" cy="41.6" rx="2.21" ry="2.21" fill="#1a4f23"/><ellipse cx="32.2" cy="81.9" rx="2.21" ry="2.21" fill="#1a4f23"/><ellipse cx="127.5" cy="66.6" rx="2.49" ry="2.49" fill="#1a4f23"/><ellipse cx="25.8" cy="106.2" rx="2.21" ry="2.21" fill="#1a4f23"/><ellipse cx="57.1" cy="115.8" rx="3.46" ry="3.46" fill="#1a4f23"/><ellipse cx="148.7" cy="152.3" rx="2.76" ry="2.76" fill="#1a4f23"/><ellipse cx="164.0" cy="139.5" rx="2.76" ry="2.76" fill="#1a4f23"/><ellipse cx="136.9" cy="55.0" rx="3.04" ry="3.04" fill="#20672a"/><ellipse cx="20.0" cy="26.9" rx="2.49" ry="2.49" fill="#2a8735"/><ellipse cx="28.1" cy="29.7" rx="2.21" ry="2.21" fill="#2a8735"/><ellipse cx="11.1" cy="49.7" rx="2.76" ry="2.76" fill="#2a8735"/><ellipse cx="117.9" cy="50.6" rx="2.49" ry="2.49" fill="#2a8735"/><ellipse cx="70.6" cy="73.6" rx="3.32" ry="3.32" fill="#2a8735"/><ellipse cx="111.9" cy="80.0" rx="2.76" ry="2.76" fill="#2a8735"/><ellipse cx="68.0" cy="83.2" rx="2.49" ry="2.49" fill="#2a8735"/><ellipse cx="74.4" cy="86.0" rx="2.49" ry="2.49" fill="#2a8735"/><ellipse cx="164.0" cy="90.9" rx="3.04" ry="3.04" fill="#2a8735"/><ellipse cx="190.9" cy="88.3" rx="2.49" ry="2.49" fill="#2a8735"/><ellipse cx="122.4" cy="103.0" rx="3.04" ry="3.04" fill="#2a8735"/><ellipse cx="125.0" cy="117.1" rx="2.49" ry="2.49" fill="#2a8735"/><ellipse cx="36.4" cy="124.2" rx="3.04" ry="3.04" fill="#2a8735"/><ellipse cx="176.2" cy="131.2" rx="2.76" ry="2.76" fill="#2a8735"/><ellipse cx="192.6" cy="137.2" rx="2.49" ry="2.49" fill="#2a8735"/><ellipse cx="210.1" cy="121.0" rx="2.76" ry="2.76" fill="#2a8735"/><ellipse cx="44.7" cy="138.6" rx="3.04" ry="3.04" fill="#2a8735"/><ellipse cx="61.6" cy="137.6" rx="2.76" ry="2.76" fill="#2a8735"/><ellipse cx="98.7" cy="152.3" rx="3.46" ry="3.46" fill="#2a8735"/><ellipse cx="119.2" cy="161.3" rx="3.04" ry="3.04" fill="#2a8735"/><ellipse cx="70.6" cy="163.2" rx="2.49" ry="2.49" fill="#2a8735"/><ellipse cx="220.3" cy="140.8" rx="2.76" ry="2.76" fill="#2a8735"/><ellipse cx="220.3" cy="148.5" rx="2.76" ry="2.76" fill="#2a8735"/><ellipse cx="134.6" cy="37.1" rx="3.46" ry="3.46" fill="#2a8735"/><ellipse cx="158.9" cy="7.0" rx="2.49" ry="2.49" fill="#2a8735"/><ellipse cx="167.9" cy="5.1" rx="2.76" ry="2.76" fill="#2a8735"/><ellipse cx="154.4" cy="12.2" rx="1.94" ry="1.94" fill="#2a8735"/><ellipse cx="59.7" cy="56.3" rx="3.46" ry="3.46" fill="#35a340"/><ellipse cx="215.0" cy="80.6" rx="2.76" ry="2.76" fill="#35a340"/><ellipse cx="92.3" cy="107.5" rx="2.76" ry="2.76" fill="#35a340"/><ellipse cx="188.3" cy="116.7" rx="2.49" ry="2.49" fill="#35a340"/><ellipse cx="185.1" cy="133.1" rx="3.04" ry="3.04" fill="#35a340"/><ellipse cx="71.2" cy="142.7" rx="3.87" ry="3.87" fill="#35a340"/><ellipse cx="89.1" cy="139.1" rx="2.76" ry="2.76" fill="#35a340"/><ellipse cx="10.4" cy="99.2" rx="3.04" ry="3.04" fill="#35a340"/><ellipse cx="139.7" cy="19.2" rx="3.04" ry="3.04" fill="#44bd4e"/><ellipse cx="213.9" cy="23.4" rx="3.04" ry="3.04" fill="#44bd4e"/><ellipse cx="56.1" cy="8.7" rx="2.21" ry="2.21" fill="#44bd4e"/><ellipse cx="44.3" cy="56.3" rx="3.87" ry="3.87" fill="#44bd4e"/><ellipse cx="86.6" cy="85.1" rx="1.38" ry="1.38" fill="#44bd4e"/><ellipse cx="155.7" cy="90.9" rx="3.46" ry="3.46" fill="#44bd4e"/><ellipse cx="154.4" cy="105.6" rx="4.15" ry="4.15" fill="#44bd4e"/><ellipse cx="19.8" cy="116.2" rx="3.46" ry="3.46" fill="#44bd4e"/><ellipse cx="135.9" cy="123.5" rx="3.87" ry="3.87" fill="#44bd4e"/><ellipse cx="22.3" cy="138.6" rx="3.32" ry="3.32" fill="#44bd4e"/><ellipse cx="221.0" cy="61.4" rx="1.94" ry="1.94" fill="#44bd4e"/><ellipse cx="139.7" cy="19.2" rx="1.41" ry="1.41" fill="#5fd265"/><ellipse cx="213.9" cy="23.4" rx="1.41" ry="1.41" fill="#5fd265"/><ellipse cx="56.1" cy="8.7" rx="1.02" ry="1.02" fill="#5fd265"/><ellipse cx="44.3" cy="56.3" rx="1.79" ry="1.79" fill="#5fd265"/><ellipse cx="86.6" cy="85.1" rx="0.64" ry="0.64" fill="#5fd265"/><ellipse cx="155.7" cy="90.9" rx="1.60" ry="1.60" fill="#5fd265"/><ellipse cx="154.4" cy="105.6" rx="1.92" ry="1.92" fill="#5fd265"/><ellipse cx="19.8" cy="116.2" rx="1.60" ry="1.60" fill="#5fd265"/><ellipse cx="135.9" cy="123.5" rx="1.79" ry="1.79" fill="#5fd265"/><ellipse cx="22.3" cy="138.6" rx="1.54" ry="1.54" fill="#5fd265"/><ellipse cx="221.0" cy="61.4" rx="0.90" ry="0.90" fill="#5fd265"/></g>
<rect x="184.8" y="150.5" width="24.9" height="1.8" fill="#e6eee0"/>
</svg>
<svg x="925.5" y="262.65" width="223" height="167.05" viewBox="0 0 223 167.05" overflow="hidden">
<rect width="223" height="167.05" fill="url(#bgm2)"/>
<g filter="url(#b2)"><polygon points="62.2,7.0 71.2,1.9 81.4,5.8 82.7,16.0 71.2,22.4 63.5,17.3" fill="#143a1c" stroke="#143a1c" stroke-width="2" stroke-linejoin="round"/><polygon points="183.8,3.2 196.6,0.6 200.5,8.3 191.5,13.4" fill="#143a1c" stroke="#143a1c" stroke-width="2" stroke-linejoin="round"/></g>
<g filter="url(#b1)"><ellipse cx="94.2" cy="7.7" rx="2.49" ry="2.49" fill="#1a4f23"/><ellipse cx="117.0" cy="15.0" rx="2.49" ry="2.49" fill="#1a4f23"/><ellipse cx="200.2" cy="25.6" rx="2.76" ry="2.76" fill="#1a4f23"/><ellipse cx="16.8" cy="59.5" rx="2.76" ry="2.76" fill="#1a4f23"/><ellipse cx="109.8" cy="55.4" rx="2.49" ry="2.49" fill="#1a4f23"/><ellipse cx="174.9" cy="71.0" rx="2.49" ry="2.49" fill="#1a4f23"/><ellipse cx="158.9" cy="50.8" rx="2.49" ry="2.49" fill="#1a4f23"/><ellipse cx="121.7" cy="83.2" rx="2.49" ry="2.49" fill="#1a4f23"/><ellipse cx="143.1" cy="102.4" rx="2.76" ry="2.76" fill="#1a4f23"/><ellipse cx="181.9" cy="112.6" rx="2.76" ry="2.76" fill="#1a4f23"/><ellipse cx="196.0" cy="110.7" rx="2.76" ry="2.76" fill="#1a4f23"/><ellipse cx="189.6" cy="139.1" rx="3.87" ry="3.87" fill="#1a4f23"/><ellipse cx="66.1" cy="153.6" rx="1.94" ry="1.94" fill="#1a4f23"/><ellipse cx="33.4" cy="19.4" rx="3.04" ry="3.04" fill="#20672a"/><ellipse cx="101.9" cy="5.8" rx="2.49" ry="2.49" fill="#20672a"/><ellipse cx="152.2" cy="15.1" rx="2.21" ry="2.21" fill="#20672a"/><ellipse cx="8.5" cy="46.1" rx="3.46" ry="3.46" fill="#20672a"/><ellipse cx="118.5" cy="112.2" rx="2.76" ry="2.76" fill="#20672a"/><ellipse cx="23.2" cy="121.6" rx="4.84" ry="4.84" fill="#20672a"/><ellipse cx="156.9" cy="146.6" rx="4.15" ry="4.15" fill="#20672a"/><ellipse cx="2.7" cy="138.9" rx="2.49" ry="2.49" fill="#20672a"/><ellipse cx="7.4" cy="11.1" rx="2.49" ry="2.49" fill="#2a8735"/><ellipse cx="83.7" cy="9.0" rx="2.49" ry="2.49" fill="#2a8735"/><ellipse cx="97.0" cy="13.7" rx="2.76" ry="2.76" fill="#2a8735"/><ellipse cx="129.8" cy="30.3" rx="2.76" ry="2.76" fill="#2a8735"/><ellipse cx="151.8" cy="36.5" rx="2.76" ry="2.76" fill="#2a8735"/><ellipse cx="199.8" cy="38.1" rx="2.21" ry="2.21" fill="#2a8735"/><ellipse cx="78.2" cy="42.5" rx="1.38" ry="1.38" fill="#2a8735"/><ellipse cx="102.9" cy="72.7" rx="2.76" ry="2.76" fill="#2a8735"/><ellipse cx="207.9" cy="69.1" rx="3.04" ry="3.04" fill="#2a8735"/><ellipse cx="202.4" cy="142.7" rx="4.42" ry="4.42" fill="#2a8735"/><ellipse cx="124.3" cy="145.3" rx="2.76" ry="2.76" fill="#2a8735"/><ellipse cx="129.4" cy="142.5" rx="2.76" ry="2.76" fill="#2a8735"/><ellipse cx="127.5" cy="163.8" rx="3.46" ry="3.46" fill="#2a8735"/><ellipse cx="4.2" cy="26.0" rx="2.76" ry="2.76" fill="#35a340"/><ellipse cx="163.7" cy="20.1" rx="2.76" ry="2.76" fill="#35a340"/><ellipse cx="181.3" cy="19.6" rx="3.04" ry="3.04" fill="#35a340"/><ellipse cx="108.0" cy="36.1" rx="2.76" ry="2.76" fill="#35a340"/><ellipse cx="9.7" cy="66.6" rx="3.32" ry="3.32" fill="#35a340"/><ellipse cx="134.8" cy="62.5" rx="3.32" ry="3.32" fill="#35a340"/><ellipse cx="151.2" cy="66.9" rx="3.46" ry="3.46" fill="#35a340"/><ellipse cx="84.6" cy="94.1" rx="3.04" ry="3.04" fill="#35a340"/><ellipse cx="11.0" cy="102.4" rx="5.53" ry="4.15" fill="#35a340"/><ellipse cx="49.4" cy="113.5" rx="3.59" ry="3.04" fill="#35a340"/><ellipse cx="49.4" cy="123.5" rx="2.49" ry="2.49" fill="#35a340"/><ellipse cx="206.2" cy="118.4" rx="4.70" ry="4.70" fill="#35a340"/><ellipse cx="174.5" cy="133.1" rx="2.76" ry="2.76" fill="#35a340"/><ellipse cx="164.9" cy="149.1" rx="3.32" ry="3.32" fill="#35a340"/><ellipse cx="10.6" cy="147.4" rx="2.49" ry="2.49" fill="#35a340"/><ellipse cx="56.5" cy="3.2" rx="3.59" ry="3.59" fill="#44bd4e"/><ellipse cx="73.1" cy="0.6" rx="2.49" ry="2.49" fill="#44bd4e"/><ellipse cx="85.9" cy="0.4" rx="2.49" ry="2.49" fill="#44bd4e"/><ellipse cx="93.6" cy="0.4" rx="2.76" ry="2.76" fill="#44bd4e"/><ellipse cx="22.5" cy="16.0" rx="3.59" ry="3.59" fill="#44bd4e"/><ellipse cx="34.3" cy="11.8" rx="2.21" ry="2.21" fill="#44bd4e"/><ellipse cx="40.2" cy="13.2" rx="2.49" ry="2.49" fill="#44bd4e"/><ellipse cx="214.3" cy="10.2" rx="3.32" ry="3.32" fill="#44bd4e"/><ellipse cx="217.5" cy="24.1" rx="3.04" ry="3.04" fill="#44bd4e"/><ellipse cx="183.4" cy="31.0" rx="3.32" ry="3.32" fill="#44bd4e"/><ellipse cx="184.5" cy="42.9" rx="3.32" ry="3.32" fill="#44bd4e"/><ellipse cx="214.9" cy="48.6" rx="3.04" ry="3.04" fill="#44bd4e"/><ellipse cx="62.9" cy="46.5" rx="3.87" ry="3.87" fill="#44bd4e"/><ellipse cx="62.2" cy="65.3" rx="4.84" ry="6.22" fill="#44bd4e"/><ellipse cx="99.1" cy="65.7" rx="2.49" ry="2.49" fill="#44bd4e"/><ellipse cx="106.0" cy="64.9" rx="3.46" ry="3.46" fill="#44bd4e"/><ellipse cx="166.5" cy="57.0" rx="2.76" ry="2.76" fill="#44bd4e"/><ellipse cx="171.0" cy="60.8" rx="3.32" ry="3.32" fill="#44bd4e"/><ellipse cx="154.0" cy="69.5" rx="3.04" ry="3.04" fill="#44bd4e"/><ellipse cx="148.6" cy="78.3" rx="4.15" ry="4.15" fill="#44bd4e"/><ellipse cx="178.4" cy="83.2" rx="3.59" ry="3.59" fill="#44bd4e"/><ellipse cx="16.1" cy="83.2" rx="3.46" ry="3.46" fill="#44bd4e"/><ellipse cx="11.9" cy="87.4" rx="3.46" ry="3.46" fill="#44bd4e"/><ellipse cx="69.5" cy="89.0" rx="2.76" ry="2.76" fill="#44bd4e"/><ellipse cx="101.9" cy="94.1" rx="3.32" ry="3.32" fill="#44bd4e"/><ellipse cx="122.4" cy="97.3" rx="4.15" ry="4.15" fill="#44bd4e"/><ellipse cx="147.6" cy="90.7" rx="1.11" ry="1.11" fill="#44bd4e"/><ellipse cx="1.4" cy="99.8" rx="2.49" ry="2.49" fill="#44bd4e"/><ellipse cx="138.4" cy="108.5" rx="3.59" ry="3.59" fill="#44bd4e"/><ellipse cx="110.6" cy="112.0" rx="3.59" ry="3.59" fill="#44bd4e"/><ellipse cx="18.7" cy="128.6" rx="3.32" ry="3.32" fill="#44bd4e"/><ellipse cx="27.9" cy="127.0" rx="4.15" ry="4.15" fill="#44bd4e"/><ellipse cx="38.9" cy="125.7" rx="2.76" ry="2.76" fill="#44bd4e"/><ellipse cx="58.4" cy="129.1" rx="2.49" ry="2.49" fill="#44bd4e"/><ellipse cx="62.2" cy="137.6" rx="2.49" ry="2.49" fill="#44bd4e"/><ellipse cx="188.9" cy="121.0" rx="3.59" ry="3.59" fill="#44bd4e"/><ellipse cx="214.5" cy="142.7" rx="2.76" ry="2.76" fill="#44bd4e"/><ellipse cx="85.3" cy="142.7" rx="2.49" ry="2.49" fill="#44bd4e"/><ellipse cx="99.3" cy="142.5" rx="3.04" ry="3.04" fill="#44bd4e"/><ellipse cx="116.2" cy="142.7" rx="3.32" ry="3.32" fill="#44bd4e"/><ellipse cx="43.4" cy="145.5" rx="3.32" ry="3.32" fill="#44bd4e"/><ellipse cx="109.6" cy="151.9" rx="2.76" ry="2.76" fill="#44bd4e"/><ellipse cx="133.9" cy="158.7" rx="2.76" ry="2.76" fill="#44bd4e"/><ellipse cx="206.2" cy="161.3" rx="3.32" ry="3.32" fill="#44bd4e"/><ellipse cx="180.0" cy="165.1" rx="3.59" ry="3.59" fill="#44bd4e"/><ellipse cx="96.8" cy="165.8" rx="2.76" ry="2.76" fill="#44bd4e"/><ellipse cx="133.9" cy="11.8" rx="3.04" ry="3.04" fill="#7fe07a"/><ellipse cx="26.0" cy="55.7" rx="3.46" ry="3.46" fill="#7fe07a"/><ellipse cx="75.7" cy="55.0" rx="3.32" ry="3.32" fill="#7fe07a"/><ellipse cx="79.5" cy="95.0" rx="3.46" ry="3.46" fill="#7fe07a"/><ellipse cx="4.9" cy="121.6" rx="2.49" ry="2.49" fill="#7fe07a"/><ellipse cx="77.8" cy="151.7" rx="3.87" ry="3.87" fill="#7fe07a"/><ellipse cx="96.1" cy="155.9" rx="3.59" ry="3.59" fill="#7fe07a"/><ellipse cx="56.5" cy="3.2" rx="1.66" ry="1.66" fill="#5fd265"/><ellipse cx="73.1" cy="0.6" rx="1.15" ry="1.15" fill="#5fd265"/><ellipse cx="85.9" cy="0.4" rx="1.15" ry="1.15" fill="#5fd265"/><ellipse cx="93.6" cy="0.4" rx="1.28" ry="1.28" fill="#5fd265"/><ellipse cx="22.5" cy="16.0" rx="1.66" ry="1.66" fill="#5fd265"/><ellipse cx="34.3" cy="11.8" rx="1.02" ry="1.02" fill="#5fd265"/><ellipse cx="40.2" cy="13.2" rx="1.15" ry="1.15" fill="#5fd265"/><ellipse cx="214.3" cy="10.2" rx="1.54" ry="1.54" fill="#5fd265"/><ellipse cx="217.5" cy="24.1" rx="1.41" ry="1.41" fill="#5fd265"/><ellipse cx="183.4" cy="31.0" rx="1.54" ry="1.54" fill="#5fd265"/><ellipse cx="184.5" cy="42.9" rx="1.54" ry="1.54" fill="#5fd265"/><ellipse cx="214.9" cy="48.6" rx="1.41" ry="1.41" fill="#5fd265"/><ellipse cx="62.9" cy="46.5" rx="1.79" ry="1.79" fill="#5fd265"/><ellipse cx="62.2" cy="65.3" rx="2.24" ry="2.88" fill="#5fd265"/><ellipse cx="99.1" cy="65.7" rx="1.15" ry="1.15" fill="#5fd265"/><ellipse cx="106.0" cy="64.9" rx="1.60" ry="1.60" fill="#5fd265"/><ellipse cx="166.5" cy="57.0" rx="1.28" ry="1.28" fill="#5fd265"/><ellipse cx="171.0" cy="60.8" rx="1.54" ry="1.54" fill="#5fd265"/><ellipse cx="154.0" cy="69.5" rx="1.41" ry="1.41" fill="#5fd265"/><ellipse cx="148.6" cy="78.3" rx="1.92" ry="1.92" fill="#5fd265"/><ellipse cx="178.4" cy="83.2" rx="1.66" ry="1.66" fill="#5fd265"/><ellipse cx="16.1" cy="83.2" rx="1.60" ry="1.60" fill="#5fd265"/><ellipse cx="11.9" cy="87.4" rx="1.60" ry="1.60" fill="#5fd265"/><ellipse cx="69.5" cy="89.0" rx="1.28" ry="1.28" fill="#5fd265"/><ellipse cx="101.9" cy="94.1" rx="1.54" ry="1.54" fill="#5fd265"/><ellipse cx="122.4" cy="97.3" rx="1.92" ry="1.92" fill="#5fd265"/><ellipse cx="147.6" cy="90.7" rx="0.51" ry="0.51" fill="#5fd265"/><ellipse cx="1.4" cy="99.8" rx="1.15" ry="1.15" fill="#5fd265"/><ellipse cx="138.4" cy="108.5" rx="1.66" ry="1.66" fill="#5fd265"/><ellipse cx="110.6" cy="112.0" rx="1.66" ry="1.66" fill="#5fd265"/><ellipse cx="18.7" cy="128.6" rx="1.54" ry="1.54" fill="#5fd265"/><ellipse cx="27.9" cy="127.0" rx="1.92" ry="1.92" fill="#5fd265"/><ellipse cx="38.9" cy="125.7" rx="1.28" ry="1.28" fill="#5fd265"/><ellipse cx="58.4" cy="129.1" rx="1.15" ry="1.15" fill="#5fd265"/><ellipse cx="62.2" cy="137.6" rx="1.15" ry="1.15" fill="#5fd265"/><ellipse cx="188.9" cy="121.0" rx="1.66" ry="1.66" fill="#5fd265"/><ellipse cx="214.5" cy="142.7" rx="1.28" ry="1.28" fill="#5fd265"/><ellipse cx="85.3" cy="142.7" rx="1.15" ry="1.15" fill="#5fd265"/><ellipse cx="99.3" cy="142.5" rx="1.41" ry="1.41" fill="#5fd265"/><ellipse cx="116.2" cy="142.7" rx="1.54" ry="1.54" fill="#5fd265"/><ellipse cx="43.4" cy="145.5" rx="1.54" ry="1.54" fill="#5fd265"/><ellipse cx="109.6" cy="151.9" rx="1.28" ry="1.28" fill="#5fd265"/><ellipse cx="133.9" cy="158.7" rx="1.28" ry="1.28" fill="#5fd265"/><ellipse cx="206.2" cy="161.3" rx="1.54" ry="1.54" fill="#5fd265"/><ellipse cx="180.0" cy="165.1" rx="1.66" ry="1.66" fill="#5fd265"/><ellipse cx="96.8" cy="165.8" rx="1.28" ry="1.28" fill="#5fd265"/><ellipse cx="133.9" cy="11.8" rx="1.55" ry="1.55" fill="#d8ffd0"/><ellipse cx="26.0" cy="55.7" rx="1.76" ry="1.76" fill="#d8ffd0"/><ellipse cx="75.7" cy="55.0" rx="1.69" ry="1.69" fill="#d8ffd0"/><ellipse cx="79.5" cy="95.0" rx="1.76" ry="1.76" fill="#d8ffd0"/><ellipse cx="4.9" cy="121.6" rx="1.27" ry="1.27" fill="#d8ffd0"/><ellipse cx="77.8" cy="151.7" rx="1.97" ry="1.97" fill="#d8ffd0"/><ellipse cx="96.1" cy="155.9" rx="1.83" ry="1.83" fill="#d8ffd0"/></g>
<rect x="185.4" y="151.65" width="24.9" height="1.8" fill="#e6eee0"/>
</svg>
<svg x="1153.6" y="264.3" width="222.6" height="166.8" viewBox="0 0 222.6 166.8" overflow="hidden">
<rect width="222.6" height="166.8" fill="url(#bgs2)"/>
<g filter="url(#b15)"><polygon points="115.2,52.5 122.3,52.5 125.5,62.7 122.9,65.3 118.4,62.7" fill="#35a340" stroke="#35a340" stroke-width="2" stroke-linejoin="round"/><polygon points="138.3,40.9 141.5,36.5 145.3,40.9 144.0,47.3 138.3,55.7 139.6,48.0" fill="#35a340" stroke="#35a340" stroke-width="2" stroke-linejoin="round"/><polygon points="95.4,65.3 104.4,62.7 105.6,69.1 100.5,72.9" fill="#1a4f23" stroke="#1a4f23" stroke-width="2" stroke-linejoin="round"/><polygon points="41.6,94.7 49.3,93.4 51.9,99.8 46.8,102.4 42.3,100.5" fill="#20672a" stroke="#20672a" stroke-width="2" stroke-linejoin="round"/><polygon points="23.7,83.2 30.1,81.9 32.7,90.9 28.8,92.1" fill="#1a4f23" stroke="#1a4f23" stroke-width="2" stroke-linejoin="round"/><polygon points="69.2,93.4 80.0,92.8 80.7,103.7 73.6,104.9" fill="#2a8735" stroke="#2a8735" stroke-width="2" stroke-linejoin="round"/><polygon points="75.6,106.2 85.2,104.9 86.4,112.6 78.8,110.7" fill="#20672a" stroke="#20672a" stroke-width="2" stroke-linejoin="round"/><polygon points="72.4,115.2 76.2,125.4 67.2,125.4" fill="#2a8735" stroke="#2a8735" stroke-width="2" stroke-linejoin="round"/><polygon points="47.4,117.7 49.3,133.1 41.6,133.1 28.8,134.4 31.4,129.3 41.6,125.4" fill="#2a8735" stroke="#2a8735" stroke-width="2" stroke-linejoin="round"/></g>
<g filter="url(#b1)"><ellipse cx="17.3" cy="47.3" rx="4.15" ry="4.15" fill="#15401d"/><ellipse cx="144.7" cy="157.4" rx="4.84" ry="4.84" fill="#15401d"/><ellipse cx="62.5" cy="47.3" rx="2.21" ry="2.21" fill="#1a4f23"/><ellipse cx="6.1" cy="42.9" rx="2.49" ry="2.49" fill="#1a4f23"/><ellipse cx="175.4" cy="39.4" rx="2.49" ry="2.49" fill="#1a4f23"/><ellipse cx="117.8" cy="87.7" rx="2.49" ry="2.49" fill="#1a4f23"/><ellipse cx="215.3" cy="105.8" rx="3.87" ry="3.87" fill="#1a4f23"/><ellipse cx="76.2" cy="142.3" rx="1.38" ry="1.38" fill="#1a4f23"/><ellipse cx="183.7" cy="155.1" rx="2.21" ry="2.21" fill="#1a4f23"/><ellipse cx="190.1" cy="165.7" rx="2.76" ry="2.76" fill="#1a4f23"/><ellipse cx="156.2" cy="33.9" rx="1.11" ry="1.11" fill="#1a4f23"/><ellipse cx="154.9" cy="80.6" rx="1.11" ry="1.11" fill="#1a4f23"/><ellipse cx="57.0" cy="26.0" rx="1.38" ry="1.38" fill="#1a4f23"/><ellipse cx="32.9" cy="59.5" rx="1.11" ry="1.11" fill="#1a4f23"/><ellipse cx="41.6" cy="18.8" rx="3.87" ry="3.87" fill="#20672a"/><ellipse cx="90.7" cy="13.0" rx="2.76" ry="2.76" fill="#20672a"/><ellipse cx="110.1" cy="33.6" rx="2.49" ry="2.49" fill="#20672a"/><ellipse cx="173.5" cy="59.8" rx="3.04" ry="3.04" fill="#20672a"/><ellipse cx="9.9" cy="97.9" rx="2.76" ry="2.76" fill="#20672a"/><ellipse cx="103.1" cy="157.8" rx="2.49" ry="2.49" fill="#20672a"/><ellipse cx="118.1" cy="153.6" rx="2.76" ry="2.76" fill="#20672a"/><ellipse cx="131.9" cy="98.2" rx="3.87" ry="2.49" fill="#2a8735"/><ellipse cx="179.9" cy="141.4" rx="4.70" ry="4.70" fill="#2a8735"/><ellipse cx="89.0" cy="155.1" rx="2.49" ry="2.49" fill="#2a8735"/><ellipse cx="185.4" cy="8.7" rx="2.49" ry="2.49" fill="#35a340"/><ellipse cx="139.9" cy="1.3" rx="2.49" ry="2.49" fill="#35a340"/><ellipse cx="170.3" cy="106.5" rx="3.32" ry="2.49" fill="#35a340"/><ellipse cx="43.9" cy="89.8" rx="3.04" ry="3.04" fill="#35a340"/><ellipse cx="6.1" cy="13.4" rx="2.76" ry="2.76" fill="#44bd4e"/><ellipse cx="12.2" cy="24.3" rx="3.59" ry="3.59" fill="#44bd4e"/><ellipse cx="99.6" cy="17.6" rx="2.76" ry="2.76" fill="#44bd4e"/><ellipse cx="105.4" cy="21.4" rx="3.59" ry="3.59" fill="#44bd4e"/><ellipse cx="95.1" cy="33.3" rx="3.32" ry="3.32" fill="#44bd4e"/><ellipse cx="92.6" cy="59.1" rx="3.32" ry="3.32" fill="#44bd4e"/><ellipse cx="94.1" cy="64.0" rx="2.76" ry="2.76" fill="#44bd4e"/><ellipse cx="7.3" cy="82.9" rx="4.98" ry="4.98" fill="#44bd4e"/><ellipse cx="110.1" cy="88.3" rx="3.04" ry="3.04" fill="#44bd4e"/><ellipse cx="142.5" cy="84.7" rx="4.15" ry="3.04" fill="#44bd4e"/><ellipse cx="88.1" cy="103.9" rx="3.04" ry="3.04" fill="#44bd4e"/><ellipse cx="173.5" cy="128.6" rx="3.59" ry="3.59" fill="#44bd4e"/><ellipse cx="141.5" cy="136.9" rx="3.32" ry="3.32" fill="#44bd4e"/><ellipse cx="105.4" cy="141.0" rx="3.32" ry="3.32" fill="#44bd4e"/><ellipse cx="67.2" cy="144.9" rx="2.76" ry="2.76" fill="#44bd4e"/><ellipse cx="157.2" cy="154.9" rx="3.32" ry="3.32" fill="#44bd4e"/><ellipse cx="30.5" cy="26.9" rx="3.46" ry="3.46" fill="#7fe07a"/><ellipse cx="97.3" cy="46.7" rx="4.15" ry="4.15" fill="#7fe07a"/><ellipse cx="187.6" cy="63.1" rx="4.15" ry="4.15" fill="#7fe07a"/><ellipse cx="212.5" cy="19.2" rx="4.15" ry="4.15" fill="#7fe07a"/><ellipse cx="205.7" cy="2.5" rx="3.87" ry="3.87" fill="#7fe07a"/><ellipse cx="3.0" cy="88.7" rx="3.32" ry="3.32" fill="#7fe07a"/><ellipse cx="6.1" cy="13.4" rx="1.28" ry="1.28" fill="#5fd265"/><ellipse cx="12.2" cy="24.3" rx="1.66" ry="1.66" fill="#5fd265"/><ellipse cx="99.6" cy="17.6" rx="1.28" ry="1.28" fill="#5fd265"/><ellipse cx="105.4" cy="21.4" rx="1.66" ry="1.66" fill="#5fd265"/><ellipse cx="95.1" cy="33.3" rx="1.54" ry="1.54" fill="#5fd265"/><ellipse cx="92.6" cy="59.1" rx="1.54" ry="1.54" fill="#5fd265"/><ellipse cx="94.1" cy="64.0" rx="1.28" ry="1.28" fill="#5fd265"/><ellipse cx="7.3" cy="82.9" rx="2.30" ry="2.30" fill="#5fd265"/><ellipse cx="110.1" cy="88.3" rx="1.41" ry="1.41" fill="#5fd265"/><ellipse cx="142.5" cy="84.7" rx="1.92" ry="1.41" fill="#5fd265"/><ellipse cx="88.1" cy="103.9" rx="1.41" ry="1.41" fill="#5fd265"/><ellipse cx="173.5" cy="128.6" rx="1.66" ry="1.66" fill="#5fd265"/><ellipse cx="141.5" cy="136.9" rx="1.54" ry="1.54" fill="#5fd265"/><ellipse cx="105.4" cy="141.0" rx="1.54" ry="1.54" fill="#5fd265"/><ellipse cx="67.2" cy="144.9" rx="1.28" ry="1.28" fill="#5fd265"/><ellipse cx="157.2" cy="154.9" rx="1.54" ry="1.54" fill="#5fd265"/><ellipse cx="30.5" cy="26.9" rx="1.76" ry="1.76" fill="#d8ffd0"/><ellipse cx="97.3" cy="46.7" rx="2.11" ry="2.11" fill="#d8ffd0"/><ellipse cx="187.6" cy="63.1" rx="2.11" ry="2.11" fill="#d8ffd0"/><ellipse cx="212.5" cy="19.2" rx="2.11" ry="2.11" fill="#d8ffd0"/><ellipse cx="205.7" cy="2.5" rx="1.97" ry="1.97" fill="#d8ffd0"/><ellipse cx="3.0" cy="88.7" rx="1.69" ry="1.69" fill="#d8ffd0"/></g>
<rect x="184.6" y="150.1" width="24.7" height="1.8" fill="#e6eee0"/>
</svg>
<svg x="1381.1" y="264.3" width="222.7" height="166.8" viewBox="0 0 222.7 166.8" overflow="hidden">
<rect width="222.7" height="166.8" fill="url(#bgt2)"/>
<g filter="url(#b2)"><polygon points="65.5,14.1 73.1,10.2 85.9,10.2 88.5,17.9 85.9,25.6 75.7,30.7 66.7,26.9" fill="#30873c" stroke="#30873c" stroke-width="2" stroke-linejoin="round"/><polygon points="51.4,19.2 59.1,16.6 65.5,21.7 60.3,28.1 52.7,25.6" fill="#184a22" stroke="#184a22" stroke-width="2" stroke-linejoin="round"/><polygon points="96.2,6.4 103.9,2.5 114.1,3.8 126.9,2.5 132.0,6.4 124.3,14.1 119.2,19.2 109.0,17.9 101.3,20.5 94.9,15.3" fill="#30873c" stroke="#30873c" stroke-width="2" stroke-linejoin="round"/><polygon points="102.6,33.3 107.7,28.8 114.7,30.1 115.4,35.8 111.5,40.3 105.1,39.7" fill="#48b552" stroke="#48b552" stroke-width="2" stroke-linejoin="round"/><polygon points="142.9,38.4 147.4,35.2 152.5,37.1 153.1,42.2 148.0,44.1 143.5,42.9" fill="#297636" stroke="#297636" stroke-width="2" stroke-linejoin="round"/><polygon points="169.1,37.1 180.7,34.5 185.8,28.1 187.1,34.5 183.2,43.5 175.5,49.9 166.6,51.2 171.7,44.8" fill="#297636" stroke="#297636" stroke-width="2" stroke-linejoin="round"/><polygon points="190.9,55.0 201.1,60.1 206.3,55.0 216.5,52.5 222.3,56.3 222.3,78.1 211.4,76.8 202.4,70.4 194.7,62.7" fill="#297636" stroke="#297636" stroke-width="2" stroke-linejoin="round"/><polygon points="73.1,62.7 80.8,56.3 88.5,58.9 87.2,70.4 80.8,76.8 70.6,78.1 68.0,75.5 73.1,70.4" fill="#297636" stroke="#297636" stroke-width="2" stroke-linejoin="round"/><polygon points="110.3,78.1 117.9,72.9 125.6,80.6 123.1,90.9 115.4,97.3 109.0,93.4 107.7,85.7" fill="#48b552" stroke="#48b552" stroke-width="2" stroke-linejoin="round"/><polygon points="137.1,90.9 144.8,85.7 152.5,85.7 155.1,94.7 147.4,101.1 138.4,103.7 135.9,98.5" fill="#48b552" stroke="#48b552" stroke-width="2" stroke-linejoin="round"/><polygon points="51.4,87.0 60.3,84.5 68.0,90.9 70.6,99.8 65.5,103.7 59.1,99.8 53.9,93.4" fill="#297636" stroke="#297636" stroke-width="2" stroke-linejoin="round"/><polygon points="170.4,87.0 176.8,83.2 183.2,86.4 181.9,90.9 175.5,92.1 171.1,90.2" fill="#30873c" stroke="#30873c" stroke-width="2" stroke-linejoin="round"/><polygon points="91.1,110.1 97.5,108.8 97.5,120.3 91.1,119.0" fill="#297636" stroke="#297636" stroke-width="2" stroke-linejoin="round"/><polygon points="104.5,108.8 111.5,106.2 118.6,110.1 117.9,113.9 107.7,113.9" fill="#297636" stroke="#297636" stroke-width="2" stroke-linejoin="round"/><polygon points="2.7,111.3 6.6,108.1 12.3,111.3 13.0,115.2 7.9,117.1 3.4,115.2" fill="#48b552" stroke="#48b552" stroke-width="2" stroke-linejoin="round"/><polygon points="15.5,122.9 20.0,119.0 24.5,121.6 23.2,128.0 16.8,129.3" fill="#297636" stroke="#297636" stroke-width="2" stroke-linejoin="round"/><polygon points="48.8,156.1 53.9,148.5 61.6,148.5 61.6,157.4 55.2,163.8" fill="#30873c" stroke="#30873c" stroke-width="2" stroke-linejoin="round"/><polygon points="91.1,160.0 96.2,154.9 102.6,157.4 103.2,163.8 97.5,166.4 92.3,165.1" fill="#297636" stroke="#297636" stroke-width="2" stroke-linejoin="round"/><polygon points="27.1,157.4 33.5,152.3 39.9,158.7 34.7,165.1 28.3,165.1" fill="#184a22" stroke="#184a22" stroke-width="2" stroke-linejoin="round"/><polygon points="190.9,142.1 197.3,130.5 202.4,134.4 199.9,143.3 193.5,148.5" fill="#1f5f2b" stroke="#1f5f2b" stroke-width="2" stroke-linejoin="round"/><polygon points="32.2,8.9 38.6,2.5 41.1,7.7 36.0,11.5" fill="#184a22" stroke="#184a22" stroke-width="2" stroke-linejoin="round"/><polygon points="39.9,61.4 43.7,59.5 45.0,66.5 41.8,69.1" fill="#1f5f2b" stroke="#1f5f2b" stroke-width="2" stroke-linejoin="round"/></g>
<g filter="url(#b1)"><ellipse cx="218.4" cy="109.7" rx="2.49" ry="2.49" fill="#1a4f23"/><ellipse cx="210.5" cy="92.8" rx="2.76" ry="2.76" fill="#1a4f23"/><ellipse cx="57.8" cy="12.5" rx="2.76" ry="2.76" fill="#20672a"/><ellipse cx="98.1" cy="43.5" rx="2.76" ry="2.76" fill="#20672a"/><ellipse cx="13.6" cy="58.6" rx="3.32" ry="3.32" fill="#20672a"/><ellipse cx="216.5" cy="127.1" rx="3.32" ry="3.32" fill="#20672a"/><ellipse cx="206.3" cy="2.5" rx="2.76" ry="2.76" fill="#20672a"/><ellipse cx="11.7" cy="28.4" rx="2.76" ry="2.76" fill="#2a8735"/><ellipse cx="17.7" cy="27.1" rx="2.21" ry="2.21" fill="#2a8735"/><ellipse cx="135.9" cy="24.9" rx="1.11" ry="1.11" fill="#2a8735"/><ellipse cx="21.9" cy="91.2" rx="2.76" ry="2.76" fill="#2a8735"/><ellipse cx="39.9" cy="122.6" rx="2.76" ry="2.76" fill="#2a8735"/><ellipse cx="185.8" cy="1.9" rx="3.87" ry="3.87" fill="#2a8735"/><ellipse cx="199.2" cy="15.0" rx="1.11" ry="1.11" fill="#2a8735"/><ellipse cx="179.4" cy="61.2" rx="1.11" ry="1.11" fill="#2a8735"/><ellipse cx="143.5" cy="106.2" rx="1.38" ry="1.38" fill="#2a8735"/><ellipse cx="129.7" cy="44.8" rx="2.76" ry="2.76" fill="#35a340"/><ellipse cx="53.7" cy="79.6" rx="2.76" ry="2.76" fill="#35a340"/><ellipse cx="29.4" cy="104.7" rx="3.32" ry="3.32" fill="#35a340"/><ellipse cx="209.5" cy="109.7" rx="3.32" ry="3.32" fill="#35a340"/><ellipse cx="63.8" cy="140.8" rx="3.04" ry="3.04" fill="#35a340"/><ellipse cx="186.8" cy="96.0" rx="4.15" ry="4.15" fill="#35a340"/><ellipse cx="142.9" cy="9.3" rx="1.38" ry="1.38" fill="#44bd4e"/><ellipse cx="204.7" cy="38.8" rx="3.59" ry="2.76" fill="#44bd4e"/><ellipse cx="129.2" cy="68.8" rx="3.32" ry="3.32" fill="#44bd4e"/><ellipse cx="31.5" cy="58.2" rx="3.87" ry="3.87" fill="#44bd4e"/><ellipse cx="91.4" cy="87.4" rx="3.04" ry="3.04" fill="#44bd4e"/><ellipse cx="128.2" cy="82.2" rx="1.66" ry="1.66" fill="#44bd4e"/><ellipse cx="137.8" cy="101.7" rx="2.76" ry="2.76" fill="#44bd4e"/><ellipse cx="102.3" cy="113.0" rx="3.04" ry="3.04" fill="#44bd4e"/><ellipse cx="1.5" cy="69.7" rx="3.87" ry="3.87" fill="#44bd4e"/><ellipse cx="162.7" cy="38.0" rx="3.59" ry="3.59" fill="#7fe07a"/><ellipse cx="108.7" cy="62.3" rx="3.59" ry="3.59" fill="#7fe07a"/><ellipse cx="36.4" cy="144.4" rx="3.32" ry="3.32" fill="#7fe07a"/><ellipse cx="12.3" cy="15.3" rx="3.87" ry="5.53" fill="#7fe07a"/><ellipse cx="146.7" cy="90.2" rx="3.04" ry="3.04" fill="#7fe07a"/><ellipse cx="142.9" cy="9.3" rx="0.64" ry="0.64" fill="#5fd265"/><ellipse cx="204.7" cy="38.8" rx="1.66" ry="1.28" fill="#5fd265"/><ellipse cx="129.2" cy="68.8" rx="1.54" ry="1.54" fill="#5fd265"/><ellipse cx="31.5" cy="58.2" rx="1.79" ry="1.79" fill="#5fd265"/><ellipse cx="91.4" cy="87.4" rx="1.41" ry="1.41" fill="#5fd265"/><ellipse cx="128.2" cy="82.2" rx="0.77" ry="0.77" fill="#5fd265"/><ellipse cx="137.8" cy="101.7" rx="1.28" ry="1.28" fill="#5fd265"/><ellipse cx="102.3" cy="113.0" rx="1.41" ry="1.41" fill="#5fd265"/><ellipse cx="1.5" cy="69.7" rx="1.79" ry="1.79" fill="#5fd265"/><ellipse cx="162.7" cy="38.0" rx="1.83" ry="1.83" fill="#d8ffd0"/><ellipse cx="108.7" cy="62.3" rx="1.83" ry="1.83" fill="#d8ffd0"/><ellipse cx="36.4" cy="144.4" rx="1.69" ry="1.69" fill="#d8ffd0"/><ellipse cx="12.3" cy="15.3" rx="1.97" ry="2.82" fill="#d8ffd0"/><ellipse cx="146.7" cy="90.2" rx="1.55" ry="1.55" fill="#d8ffd0"/></g>
<rect x="184.8" y="150.8" width="25" height="1.8" fill="#e6eee0"/>
</svg>
</g>
<g id="panel-c">
<path d="M169.1 1011.3V987.5Q169.1 985 171.6 985H211.5Q214 985 214 987.5V1011.3Z" fill="#808080"/>
<path d="M294 1011.3V681.4Q294 678.9 296.5 678.9H340.5Q343 678.9 343 681.4V1011.3Z" fill="#808080"/>
<path d="M419.1 1011.3V722.1Q419.1 719.6 421.6 719.6H465.8Q468.3 719.6 468.3 722.1V1011.3Z" fill="#808080"/>
<line x1="193.1" y1="983.4" x2="193.1" y2="987" stroke="#808080" stroke-width="4.4"/>
<line x1="182.6" y1="983.4" x2="203.6" y2="983.4" stroke="#808080" stroke-width="4.4"/>
<line x1="318.6" y1="662.7" x2="318.6" y2="681" stroke="#808080" stroke-width="4.4"/>
<line x1="308.1" y1="662.7" x2="329.1" y2="662.7" stroke="#808080" stroke-width="4.4"/>
<line x1="443.8" y1="704.7" x2="443.8" y2="722" stroke="#808080" stroke-width="4.4"/>
<line x1="433.3" y1="704.7" x2="454.3" y2="704.7" stroke="#808080" stroke-width="4.4"/>
<rect x="213.9" y="985" width="42.1" height="26.3" fill="#fff" stroke="#000" stroke-width="4.6" rx="1"/>
<rect x="339.3" y="958.8" width="42.4" height="52.5" fill="#fff" stroke="#000" stroke-width="4.6" rx="1"/>
<rect x="464.7" y="864.9" width="42.4" height="146.4" fill="#fff" stroke="#000" stroke-width="4.6" rx="1"/>
<line x1="235" y1="972.7" x2="235" y2="984" stroke="#000" stroke-width="4.4"/>
<line x1="224.5" y1="972.7" x2="245.5" y2="972.7" stroke="#000" stroke-width="4.4"/>
<line x1="360.5" y1="945" x2="360.5" y2="958" stroke="#000" stroke-width="4.4"/>
<line x1="350" y1="945" x2="371" y2="945" stroke="#000" stroke-width="4.4"/>
<line x1="485.6" y1="833.3" x2="485.6" y2="865" stroke="#000" stroke-width="4.4"/>
<line x1="475.1" y1="833.3" x2="496.1" y2="833.3" stroke="#000" stroke-width="4.4"/>
<ellipse cx="189.3" cy="983.4" rx="3.2" ry="3.9" fill="#000"/>
<ellipse cx="196.8" cy="983.4" rx="3.2" ry="3.9" fill="#000"/>
<ellipse cx="193.1" cy="997.8" rx="3.2" ry="3.9" fill="#000"/>
<ellipse cx="314.3" cy="660.4" rx="3.2" ry="3.9" fill="#000"/>
<ellipse cx="322.3" cy="665" rx="3.2" ry="3.9" fill="#000"/>
<ellipse cx="318.4" cy="721.9" rx="3.2" ry="3.9" fill="#000"/>
<ellipse cx="443.8" cy="687.1" rx="3.2" ry="3.9" fill="#000"/>
<ellipse cx="443.8" cy="733.5" rx="3.2" ry="3.9" fill="#000"/>
<ellipse cx="443.8" cy="750.5" rx="3.2" ry="3.9" fill="#000"/>
<rect x="231.8" y="966.2" width="6.4" height="7" fill="#000"/>
<rect x="231.8" y="1008" width="6.4" height="7" fill="#000"/>
<rect x="231.8" y="971.5" width="6.4" height="7" fill="#000"/>
<rect x="357.3" y="928.5" width="6.4" height="7" fill="#000"/>
<rect x="357.3" y="961.6" width="6.4" height="7" fill="#000"/>
<rect x="357.3" y="975.8" width="6.4" height="7" fill="#000"/>
<rect x="482.2" y="799.1" width="6.4" height="7" fill="#000"/>
<rect x="482.2" y="885.3" width="6.4" height="7" fill="#000"/>
<rect x="482.2" y="895.4" width="6.4" height="7" fill="#000"/>
<line x1="151.4" y1="623" x2="151.4" y2="1014.3" stroke="#000" stroke-width="4.9"/>
<line x1="143" y1="1011.3" x2="530" y2="1011.3" stroke="#000" stroke-width="6"/>
<line x1="143" y1="914.85" x2="151.4" y2="914.85" stroke="#000" stroke-width="5"/>
<line x1="143" y1="818.4" x2="151.4" y2="818.4" stroke="#000" stroke-width="5"/>
<line x1="143" y1="721.95" x2="151.4" y2="721.95" stroke="#000" stroke-width="5"/>
<line x1="143" y1="625.5" x2="151.4" y2="625.5" stroke="#000" stroke-width="5"/>
<text x="122.15" y="1018.4" font-family='"Liberation Sans", sans-serif' font-size="31.3" font-weight="bold" textLength="15.67" lengthAdjust="spacingAndGlyphs">0</text>
<text x="106.48" y="921.95" font-family='"Liberation Sans", sans-serif' font-size="31.3" font-weight="bold" textLength="31.33" lengthAdjust="spacingAndGlyphs">10</text>
<text x="106.48" y="825.5" font-family='"Liberation Sans", sans-serif' font-size="31.3" font-weight="bold" textLength="31.33" lengthAdjust="spacingAndGlyphs">20</text>
<text x="106.48" y="729.05" font-family='"Liberation Sans", sans-serif' font-size="31.3" font-weight="bold" textLength="31.33" lengthAdjust="spacingAndGlyphs">30</text>
<text x="106.48" y="632.6" font-family='"Liberation Sans", sans-serif' font-size="31.3" font-weight="bold" textLength="31.33" lengthAdjust="spacingAndGlyphs">40</text>
<text x="88" y="984.83" font-family='"Liberation Sans", sans-serif' font-size="35.4" font-weight="bold" textLength="336.75" lengthAdjust="spacingAndGlyphs" transform="rotate(-90 88 984.83)">% of nuclei in syncytia</text>
<text x="58.86" y="1052" font-family='"Liberation Sans", sans-serif' font-size="27.5" fill="#231815" textLength="87.9" lengthAdjust="spacingAndGlyphs">Trypsin</text>
<text x="195.6" y="1041.9" font-family='"Liberation Sans", sans-serif' font-size="33" text-anchor="middle" fill="#231815">+</text>
<text x="315.6" y="1042.4" font-family='"Liberation Sans", sans-serif' font-size="33" text-anchor="middle" fill="#231815">+</text>
<text x="443.1" y="1044.9" font-family='"Liberation Sans", sans-serif' font-size="33" text-anchor="middle" fill="#231815">+</text>
<text x="233.8" y="1041.9" font-family='"Liberation Sans", sans-serif' font-size="33" text-anchor="middle" fill="#231815">-</text>
<text x="353.8" y="1042.4" font-family='"Liberation Sans", sans-serif' font-size="33" text-anchor="middle" fill="#231815">-</text>
<text x="481.45" y="1044.2" font-family='"Liberation Sans", sans-serif' font-size="33" text-anchor="middle" fill="#231815">-</text>
<line x1="173.9" y1="1054.9" x2="254.6" y2="1054.9" stroke="#231815" stroke-width="2.7"/>
<line x1="292.3" y1="1054.9" x2="374.6" y2="1054.9" stroke="#231815" stroke-width="2.7"/>
<line x1="414.1" y1="1054.9" x2="492.3" y2="1054.9" stroke="#231815" stroke-width="2.7"/>
<text x="171.4" y="1151.1" font-family='"Liberation Sans", sans-serif' font-size="31" font-weight="bold" textLength="76.53" lengthAdjust="spacingAndGlyphs" transform="rotate(-45 171.4 1151.1)">Mock</text>
<text x="226.21" y="1221.89" font-family='"Liberation Sans", sans-serif' font-size="31" font-weight="bold" textLength="177.42" lengthAdjust="spacingAndGlyphs" transform="rotate(-45 226.21 1221.89)">SARS-CoV S</text>
<text x="344.96" y="1225.34" font-family='"Liberation Sans", sans-serif' font-size="31" font-weight="bold" textLength="201.82" lengthAdjust="spacingAndGlyphs" transform="rotate(-45 344.96 1225.34)">SARS-CoV-2 S</text>
</g>
<g id="panel-d">
<line x1="910" y1="644.48" x2="910" y2="1024.7" stroke="#000" stroke-width="3.6"/>
<line x1="897.2" y1="1022.9" x2="1476.9" y2="1022.9" stroke="#000" stroke-width="3.6"/>
<line x1="897.2" y1="960.13" x2="910" y2="960.13" stroke="#000" stroke-width="3.6"/>
<line x1="897.2" y1="897.36" x2="910" y2="897.36" stroke="#000" stroke-width="3.6"/>
<line x1="897.2" y1="834.59" x2="910" y2="834.59" stroke="#000" stroke-width="3.6"/>
<line x1="897.2" y1="771.82" x2="910" y2="771.82" stroke="#000" stroke-width="3.6"/>
<line x1="897.2" y1="709.05" x2="910" y2="709.05" stroke="#000" stroke-width="3.6"/>
<line x1="897.2" y1="646.28" x2="910" y2="646.28" stroke="#000" stroke-width="3.6"/>
<line x1="910" y1="1022.9" x2="910" y2="1035.8" stroke="#000" stroke-width="3.6"/>
<line x1="1023.04" y1="1022.9" x2="1023.04" y2="1035.8" stroke="#000" stroke-width="3.6"/>
<line x1="1136.08" y1="1022.9" x2="1136.08" y2="1035.8" stroke="#000" stroke-width="3.6"/>
<line x1="1249.12" y1="1022.9" x2="1249.12" y2="1035.8" stroke="#000" stroke-width="3.6"/>
<line x1="1362.16" y1="1022.9" x2="1362.16" y2="1035.8" stroke="#000" stroke-width="3.6"/>
<line x1="1475.2" y1="1022.9" x2="1475.2" y2="1035.8" stroke="#000" stroke-width="3.6"/>
<text x="879.18" y="1032.6" font-family='"Liberation Sans", sans-serif' font-size="31" font-weight="bold" textLength="15" lengthAdjust="spacingAndGlyphs">0</text>
<text x="864.18" y="969.83" font-family='"Liberation Sans", sans-serif' font-size="31" font-weight="bold" textLength="30" lengthAdjust="spacingAndGlyphs">20</text>
<text x="864.18" y="907.06" font-family='"Liberation Sans", sans-serif' font-size="31" font-weight="bold" textLength="30" lengthAdjust="spacingAndGlyphs">40</text>
<text x="864.18" y="844.29" font-family='"Liberation Sans", sans-serif' font-size="31" font-weight="bold" textLength="30" lengthAdjust="spacingAndGlyphs">60</text>
<text x="864.18" y="781.52" font-family='"Liberation Sans", sans-serif' font-size="31" font-weight="bold" textLength="30" lengthAdjust="spacingAndGlyphs">80</text>
<text x="849.18" y="718.75" font-family='"Liberation Sans", sans-serif' font-size="31" font-weight="bold" textLength="45" lengthAdjust="spacingAndGlyphs">100</text>
<text x="849.18" y="655.98" font-family='"Liberation Sans", sans-serif' font-size="31" font-weight="bold" textLength="45" lengthAdjust="spacingAndGlyphs">120</text>
<text x="902.32" y="1064" font-family='"Liberation Sans", sans-serif' font-size="31" font-weight="bold" textLength="15" lengthAdjust="spacingAndGlyphs">0</text>
<text x="1014.88" y="1064" font-family='"Liberation Sans", sans-serif' font-size="31" font-weight="bold" textLength="15" lengthAdjust="spacingAndGlyphs">1</text>
<text x="1128.46" y="1064" font-family='"Liberation Sans", sans-serif' font-size="31" font-weight="bold" textLength="15" lengthAdjust="spacingAndGlyphs">2</text>
<text x="1241.64" y="1064" font-family='"Liberation Sans", sans-serif' font-size="31" font-weight="bold" textLength="15" lengthAdjust="spacingAndGlyphs">3</text>
<text x="1354.27" y="1064" font-family='"Liberation Sans", sans-serif' font-size="31" font-weight="bold" textLength="15" lengthAdjust="spacingAndGlyphs">4</text>
<text x="1467.45" y="1064" font-family='"Liberation Sans", sans-serif' font-size="31" font-weight="bold" textLength="15" lengthAdjust="spacingAndGlyphs">5</text>
<text x="985.63" y="1106" font-family='"Liberation Sans", sans-serif' font-size="33" font-weight="bold" textLength="420.23" lengthAdjust="spacingAndGlyphs">Incubation time at 37°<tspan dx="6"> </tspan>C (hrs)</text>
<text x="794.3" y="968.08" font-family='"Liberation Sans", sans-serif' font-size="32.6" font-weight="bold" textLength="266.02" lengthAdjust="spacingAndGlyphs" transform="rotate(-90 794.3 968.08)">Luciferase activity</text>
<text x="832" y="921.53" font-family='"Liberation Sans", sans-serif' font-size="32.6" font-weight="bold" textLength="173.16" lengthAdjust="spacingAndGlyphs" transform="rotate(-90 832 921.53)">(% of 0 hrs)</text>
<polyline points="910.1,709.3 966.6,808.7 1023.7,811.7 1136.4,824.3 1362,893" fill="none" stroke="#2b3e9c" stroke-width="3.3" stroke-linejoin="round"/>
<line x1="966.6" y1="780.9" x2="966.6" y2="835.7" stroke="#2b3e9c" stroke-width="3.1"/>
<line x1="957.45" y1="780.9" x2="975.75" y2="780.9" stroke="#2b3e9c" stroke-width="3.1"/>
<line x1="957.45" y1="835.7" x2="975.75" y2="835.7" stroke="#2b3e9c" stroke-width="3.1"/>
<line x1="1023.7" y1="786.1" x2="1023.7" y2="838" stroke="#2b3e9c" stroke-width="3.1"/>
<line x1="1014.55" y1="786.1" x2="1032.85" y2="786.1" stroke="#2b3e9c" stroke-width="3.1"/>
<line x1="1014.55" y1="838" x2="1032.85" y2="838" stroke="#2b3e9c" stroke-width="3.1"/>
<line x1="1136.4" y1="773.5" x2="1136.4" y2="875" stroke="#2b3e9c" stroke-width="3.1"/>
<line x1="1127.25" y1="773.5" x2="1145.55" y2="773.5" stroke="#2b3e9c" stroke-width="3.1"/>
<line x1="1127.25" y1="875" x2="1145.55" y2="875" stroke="#2b3e9c" stroke-width="3.1"/>
<line x1="1362" y1="864" x2="1362" y2="920" stroke="#2b3e9c" stroke-width="3.1"/>
<line x1="1352.85" y1="864" x2="1371.15" y2="864" stroke="#2b3e9c" stroke-width="3.1"/>
<line x1="1352.85" y1="920" x2="1371.15" y2="920" stroke="#2b3e9c" stroke-width="3.1"/>
<rect x="900.95" y="700.15" width="18.3" height="18.3" fill="#2b3e9c"/>
<rect x="957.45" y="799.55" width="18.3" height="18.3" fill="#2b3e9c"/>
<rect x="1014.55" y="802.55" width="18.3" height="18.3" fill="#2b3e9c"/>
<rect x="1127.25" y="815.15" width="18.3" height="18.3" fill="#2b3e9c"/>
<rect x="1352.85" y="883.85" width="18.3" height="18.3" fill="#2b3e9c"/>
<polyline points="910.1,709.3 966.6,697 1023.7,698.6 1136.4,722.1 1362,854.2" fill="none" stroke="#000" stroke-width="3.3" stroke-linejoin="round"/>
<line x1="966.6" y1="671.1" x2="966.6" y2="722.6" stroke="#000" stroke-width="3.1"/>
<line x1="957.45" y1="671.1" x2="975.75" y2="671.1" stroke="#000" stroke-width="3.1"/>
<line x1="957.45" y1="722.6" x2="975.75" y2="722.6" stroke="#000" stroke-width="3.1"/>
<line x1="1023.7" y1="687.1" x2="1023.7" y2="710" stroke="#000" stroke-width="3.1"/>
<line x1="1014.55" y1="687.1" x2="1032.85" y2="687.1" stroke="#000" stroke-width="3.1"/>
<line x1="1014.55" y1="710" x2="1032.85" y2="710" stroke="#000" stroke-width="3.1"/>
<line x1="1136.4" y1="704.3" x2="1136.4" y2="740.4" stroke="#000" stroke-width="3.1"/>
<line x1="1127.25" y1="704.3" x2="1145.55" y2="704.3" stroke="#000" stroke-width="3.1"/>
<line x1="1127.25" y1="740.4" x2="1145.55" y2="740.4" stroke="#000" stroke-width="3.1"/>
<line x1="1362" y1="843" x2="1362" y2="865.6" stroke="#000" stroke-width="3.1"/>
<line x1="1352.85" y1="843" x2="1371.15" y2="843" stroke="#000" stroke-width="3.1"/>
<line x1="1352.85" y1="865.6" x2="1371.15" y2="865.6" stroke="#000" stroke-width="3.1"/>
<circle cx="910.1" cy="709.3" r="9.2" fill="#000"/>
<circle cx="966.6" cy="697" r="9.2" fill="#000"/>
<circle cx="1023.7" cy="698.6" r="9.2" fill="#000"/>
<circle cx="1136.4" cy="722.1" r="9.2" fill="#000"/>
<circle cx="1362" cy="854.2" r="9.2" fill="#000"/>
<line x1="1251.1" y1="654.7" x2="1293.4" y2="654.7" stroke="#000" stroke-width="3.3"/>
<circle cx="1272.2" cy="654.7" r="9.2" fill="#000"/>
<line x1="1251.1" y1="697.9" x2="1293.4" y2="697.9" stroke="#2b3e9c" stroke-width="3.3"/>
<rect x="1263.05" y="688.75" width="18.3" height="18.3" fill="#2b3e9c"/>
<text x="1314.81" y="664.8" font-family='"Liberation Sans", sans-serif' font-size="31.9" textLength="183.69" lengthAdjust="spacingAndGlyphs">SARS-CoV S</text>
<text x="1315.98" y="708" font-family='"Liberation Sans", sans-serif' font-size="31.9" textLength="213.34" lengthAdjust="spacingAndGlyphs">SARS-CoV-2 S</text>
</g>
<g id="panel-e">
<line x1="238" y1="1323.78" x2="238" y2="1741.2" stroke="#000" stroke-width="3.6"/>
<line x1="224.3" y1="1739.4" x2="860.7" y2="1739.4" stroke="#000" stroke-width="3.6"/>
<line x1="224.3" y1="1670.43" x2="238" y2="1670.43" stroke="#000" stroke-width="3.6"/>
<line x1="224.3" y1="1601.46" x2="238" y2="1601.46" stroke="#000" stroke-width="3.6"/>
<line x1="224.3" y1="1532.49" x2="238" y2="1532.49" stroke="#000" stroke-width="3.6"/>
<line x1="224.3" y1="1463.52" x2="238" y2="1463.52" stroke="#000" stroke-width="3.6"/>
<line x1="224.3" y1="1394.55" x2="238" y2="1394.55" stroke="#000" stroke-width="3.6"/>
<line x1="224.3" y1="1325.58" x2="238" y2="1325.58" stroke="#000" stroke-width="3.6"/>
<line x1="276.7" y1="1739.4" x2="276.7" y2="1753" stroke="#000" stroke-width="3.6"/>
<line x1="354.36" y1="1739.4" x2="354.36" y2="1753" stroke="#000" stroke-width="3.6"/>
<line x1="432.02" y1="1739.4" x2="432.02" y2="1753" stroke="#000" stroke-width="3.6"/>
<line x1="509.68" y1="1739.4" x2="509.68" y2="1753" stroke="#000" stroke-width="3.6"/>
<line x1="587.34" y1="1739.4" x2="587.34" y2="1753" stroke="#000" stroke-width="3.6"/>
<line x1="665" y1="1739.4" x2="665" y2="1753" stroke="#000" stroke-width="3.6"/>
<line x1="742.66" y1="1739.4" x2="742.66" y2="1753" stroke="#000" stroke-width="3.6"/>
<line x1="820.32" y1="1739.4" x2="820.32" y2="1753" stroke="#000" stroke-width="3.6"/>
<text x="203.95" y="1750.2" font-family='"Liberation Sans", sans-serif' font-size="34" font-weight="bold" textLength="16.73" lengthAdjust="spacingAndGlyphs">0</text>
<text x="187.22" y="1681.23" font-family='"Liberation Sans", sans-serif' font-size="34" font-weight="bold" textLength="33.47" lengthAdjust="spacingAndGlyphs">20</text>
<text x="187.22" y="1612.26" font-family='"Liberation Sans", sans-serif' font-size="34" font-weight="bold" textLength="33.47" lengthAdjust="spacingAndGlyphs">40</text>
<text x="187.22" y="1543.29" font-family='"Liberation Sans", sans-serif' font-size="34" font-weight="bold" textLength="33.47" lengthAdjust="spacingAndGlyphs">60</text>
<text x="187.22" y="1474.32" font-family='"Liberation Sans", sans-serif' font-size="34" font-weight="bold" textLength="33.47" lengthAdjust="spacingAndGlyphs">80</text>
<text x="170.48" y="1405.35" font-family='"Liberation Sans", sans-serif' font-size="34" font-weight="bold" textLength="50.2" lengthAdjust="spacingAndGlyphs">100</text>
<text x="170.48" y="1336.38" font-family='"Liberation Sans", sans-serif' font-size="34" font-weight="bold" textLength="50.2" lengthAdjust="spacingAndGlyphs">120</text>
<text x="259.26" y="1785.3" font-family='"Liberation Sans", sans-serif' font-size="34" font-weight="bold" textLength="33.47" lengthAdjust="spacingAndGlyphs">38</text>
<text x="337.14" y="1785.3" font-family='"Liberation Sans", sans-serif' font-size="34" font-weight="bold" textLength="33.47" lengthAdjust="spacingAndGlyphs">40</text>
<text x="414.8" y="1785.3" font-family='"Liberation Sans", sans-serif' font-size="34" font-weight="bold" textLength="33.47" lengthAdjust="spacingAndGlyphs">42</text>
<text x="491.94" y="1785.3" font-family='"Liberation Sans", sans-serif' font-size="34" font-weight="bold" textLength="33.47" lengthAdjust="spacingAndGlyphs">44</text>
<text x="570.12" y="1785.3" font-family='"Liberation Sans", sans-serif' font-size="34" font-weight="bold" textLength="33.47" lengthAdjust="spacingAndGlyphs">46</text>
<text x="647.63" y="1785.3" font-family='"Liberation Sans", sans-serif' font-size="34" font-weight="bold" textLength="33.47" lengthAdjust="spacingAndGlyphs">48</text>
<text x="725.22" y="1785.3" font-family='"Liberation Sans", sans-serif' font-size="34" font-weight="bold" textLength="33.47" lengthAdjust="spacingAndGlyphs">50</text>
<text x="802.88" y="1785.3" font-family='"Liberation Sans", sans-serif' font-size="34" font-weight="bold" textLength="33.47" lengthAdjust="spacingAndGlyphs">52</text>
<text x="472.88" y="1829.6" font-family='"Liberation Sans", sans-serif' font-size="35.5" font-weight="bold" textLength="159.58" lengthAdjust="spacingAndGlyphs">Temp (°<tspan dx="6"> </tspan>C)</text>
<text x="110.7" y="1691.87" font-family='"Liberation Sans", sans-serif' font-size="35.7" font-weight="bold" textLength="319.48" lengthAdjust="spacingAndGlyphs" transform="rotate(-90 110.7 1691.87)">Luciferase activities</text>
<text x="151.5" y="1624.39" font-family='"Liberation Sans", sans-serif' font-size="35.7" font-weight="bold" textLength="183.87" lengthAdjust="spacingAndGlyphs" transform="rotate(-90 151.5 1624.39)">(% of 37°<tspan dx="6"> </tspan>C)</text>
<polyline points="238.4,1394.7 315.4,1419.6 393.3,1481.4 470.6,1589.1 548.7,1650.7 625.7,1702.6 703.9,1720.2 781.1,1733.4" fill="none" stroke="#2b4ea8" stroke-width="3.5" stroke-linejoin="round"/>
<line x1="393.3" y1="1460.3" x2="393.3" y2="1501.3" stroke="#2b4ea8" stroke-width="3.3"/>
<line x1="383.55" y1="1460.3" x2="403.05" y2="1460.3" stroke="#2b4ea8" stroke-width="3.3"/>
<line x1="383.55" y1="1501.3" x2="403.05" y2="1501.3" stroke="#2b4ea8" stroke-width="3.3"/>
<rect x="228.7" y="1385" width="19.4" height="19.4" fill="#2b4ea8"/>
<rect x="305.7" y="1409.9" width="19.4" height="19.4" fill="#2b4ea8"/>
<rect x="383.6" y="1471.7" width="19.4" height="19.4" fill="#2b4ea8"/>
<rect x="460.9" y="1579.4" width="19.4" height="19.4" fill="#2b4ea8"/>
<rect x="539" y="1641" width="19.4" height="19.4" fill="#2b4ea8"/>
<rect x="616" y="1692.9" width="19.4" height="19.4" fill="#2b4ea8"/>
<rect x="694.2" y="1710.5" width="19.4" height="19.4" fill="#2b4ea8"/>
<rect x="771.4" y="1723.7" width="19.4" height="19.4" fill="#2b4ea8"/>
<polyline points="238.4,1394.7 315.4,1448.4 393.3,1439.3 470.9,1484.3 548.6,1525.4 625.7,1610 703.9,1623.3 781.1,1711.3" fill="none" stroke="#000" stroke-width="3.5" stroke-linejoin="round"/>
<line x1="393.3" y1="1427.7" x2="393.3" y2="1450.3" stroke="#000" stroke-width="3.3"/>
<line x1="383.55" y1="1427.7" x2="403.05" y2="1427.7" stroke="#000" stroke-width="3.3"/>
<line x1="383.55" y1="1450.3" x2="403.05" y2="1450.3" stroke="#000" stroke-width="3.3"/>
<line x1="470.9" y1="1466.5" x2="470.9" y2="1502.6" stroke="#000" stroke-width="3.3"/>
<line x1="461.15" y1="1466.5" x2="480.65" y2="1466.5" stroke="#000" stroke-width="3.3"/>
<line x1="461.15" y1="1502.6" x2="480.65" y2="1502.6" stroke="#000" stroke-width="3.3"/>
<line x1="548.6" y1="1511.3" x2="548.6" y2="1539.1" stroke="#000" stroke-width="3.3"/>
<line x1="538.85" y1="1511.3" x2="558.35" y2="1511.3" stroke="#000" stroke-width="3.3"/>
<line x1="538.85" y1="1539.1" x2="558.35" y2="1539.1" stroke="#000" stroke-width="3.3"/>
<line x1="703.9" y1="1609.5" x2="703.9" y2="1636.3" stroke="#000" stroke-width="3.3"/>
<line x1="694.15" y1="1609.5" x2="713.65" y2="1609.5" stroke="#000" stroke-width="3.3"/>
<line x1="694.15" y1="1636.3" x2="713.65" y2="1636.3" stroke="#000" stroke-width="3.3"/>
<circle cx="238.4" cy="1394.7" r="9.7" fill="#000"/>
<circle cx="315.4" cy="1448.4" r="9.7" fill="#000"/>
<circle cx="393.3" cy="1439.3" r="9.7" fill="#000"/>
<circle cx="470.9" cy="1484.3" r="9.7" fill="#000"/>
<circle cx="548.6" cy="1525.4" r="9.7" fill="#000"/>
<circle cx="625.7" cy="1610" r="9.7" fill="#000"/>
<circle cx="703.9" cy="1623.3" r="9.7" fill="#000"/>
<circle cx="781.1" cy="1711.3" r="9.7" fill="#000"/>
<line x1="581.7" y1="1353.3" x2="628.1" y2="1353.3" stroke="#000" stroke-width="3.5"/>
<circle cx="605" cy="1353.3" r="9.7" fill="#000"/>
<line x1="581.7" y1="1401.3" x2="628.1" y2="1401.3" stroke="#2b4ea8" stroke-width="3.5"/>
<rect x="595.2" y="1391.5" width="19.6" height="19.6" fill="#2b4ea8"/>
<text x="651.47" y="1364.3" font-family='"Liberation Sans", sans-serif' font-size="33.7" textLength="201.65" lengthAdjust="spacingAndGlyphs">SARS-CoV S</text>
<text x="651.44" y="1412.3" font-family='"Liberation Sans", sans-serif' font-size="33.7" textLength="234.91" lengthAdjust="spacingAndGlyphs">SARS-CoV-2 S</text>
</g>
</svg>
</body></html>
